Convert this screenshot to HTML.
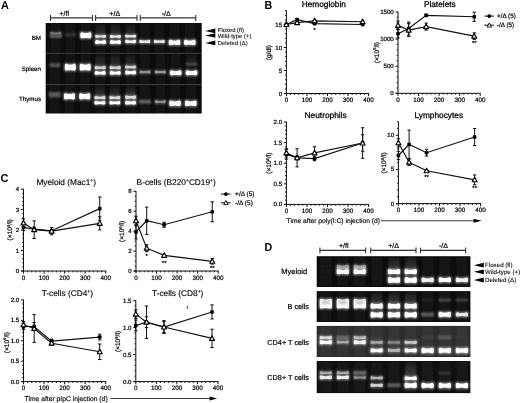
<!DOCTYPE html>
<html><head><meta charset="utf-8"><style>
html,body{margin:0;padding:0;background:#fff;}
svg{display:block;filter:grayscale(100%) blur(0.3px);}
text{font-family:"Liberation Sans", sans-serif;text-rendering:geometricPrecision;}
</style></head><body>
<svg width="520" height="403" viewBox="0 0 520 403">
<defs><filter id="bl" x="-30%" y="-60%" width="160%" height="220%"><feGaussianBlur stdDeviation="0.75"/></filter><filter id="bl3" x="-30%" y="-80%" width="160%" height="260%"><feGaussianBlur stdDeviation="1.0"/></filter><filter id="bl2" x="-30%" y="-60%" width="160%" height="220%"><feGaussianBlur stdDeviation="1.2"/></filter><linearGradient id="sm" x1="0" y1="0" x2="0" y2="1"><stop offset="0" stop-color="#fff" stop-opacity="0.05"/><stop offset="1" stop-color="#fff" stop-opacity="0.25"/></linearGradient></defs>
<rect width="520" height="403" fill="#fff"/>
<text transform="translate(0.9,8.75) scale(0.96,1)" font-size="11.4" font-weight="bold" fill="#000">A</text>
<text transform="translate(264.4,8.9) scale(0.92,1)" font-size="11.6" font-weight="bold" fill="#000">B</text>
<text transform="translate(0.5,181.9) scale(0.96,1)" font-size="11.4" font-weight="bold" fill="#000">C</text>
<text transform="translate(264.6,251.0) scale(0.92,1)" font-size="11.6" font-weight="bold" fill="#000">D</text>
<line x1="50.50" y1="17.90" x2="92.50" y2="17.90" stroke="#333" stroke-width="1.1"/>
<line x1="50.50" y1="15.00" x2="50.50" y2="20.90" stroke="#333" stroke-width="1.1"/>
<line x1="92.50" y1="15.00" x2="92.50" y2="20.90" stroke="#333" stroke-width="1.1"/>
<line x1="95.60" y1="17.90" x2="137.00" y2="17.90" stroke="#333" stroke-width="1.1"/>
<line x1="95.60" y1="15.00" x2="95.60" y2="20.90" stroke="#333" stroke-width="1.1"/>
<line x1="137.00" y1="15.00" x2="137.00" y2="20.90" stroke="#333" stroke-width="1.1"/>
<line x1="140.30" y1="17.90" x2="195.80" y2="17.90" stroke="#333" stroke-width="1.1"/>
<line x1="140.30" y1="15.00" x2="140.30" y2="20.90" stroke="#333" stroke-width="1.1"/>
<line x1="195.80" y1="15.00" x2="195.80" y2="20.90" stroke="#333" stroke-width="1.1"/>
<text x="64.20" y="15.50" font-size="7.1" text-anchor="middle" font-weight="normal" fill="#000" stroke="#000" stroke-width="0.2" >+/fl</text>
<text x="114.80" y="15.50" font-size="7.1" text-anchor="middle" font-weight="normal" fill="#000" stroke="#000" stroke-width="0.2" >+/Δ</text>
<text x="166.20" y="15.50" font-size="7.1" text-anchor="middle" font-weight="normal" fill="#000" stroke="#000" stroke-width="0.2" >-/Δ</text>
<rect x="45.7" y="23.0" width="156.0" height="90.5" fill="#0b0b0b"/>
<rect x="45.7" y="52.80" width="156.0" height="0.9" fill="#454545"/>
<rect x="45.7" y="84.20" width="156.0" height="0.9" fill="#454545"/>
<rect x="51.00" y="23.50" width="9.6" height="29.10" fill="#fff" opacity="0.035" filter="url(#bl)"/>
<rect x="65.60" y="23.50" width="9.6" height="29.10" fill="#fff" opacity="0.035" filter="url(#bl)"/>
<rect x="81.00" y="23.50" width="9.6" height="29.10" fill="#fff" opacity="0.035" filter="url(#bl)"/>
<rect x="95.80" y="23.50" width="9.6" height="29.10" fill="#fff" opacity="0.035" filter="url(#bl)"/>
<rect x="110.60" y="23.50" width="9.6" height="29.10" fill="#fff" opacity="0.035" filter="url(#bl)"/>
<rect x="125.80" y="23.50" width="9.6" height="29.10" fill="#fff" opacity="0.035" filter="url(#bl)"/>
<rect x="140.00" y="23.50" width="9.6" height="29.10" fill="#fff" opacity="0.035" filter="url(#bl)"/>
<rect x="154.50" y="23.50" width="9.6" height="29.10" fill="#fff" opacity="0.035" filter="url(#bl)"/>
<rect x="169.70" y="23.50" width="9.6" height="29.10" fill="#fff" opacity="0.035" filter="url(#bl)"/>
<rect x="185.00" y="23.50" width="9.6" height="29.10" fill="#fff" opacity="0.035" filter="url(#bl)"/>
<rect x="50.10" y="54.00" width="9.6" height="30.00" fill="#fff" opacity="0.035" filter="url(#bl)"/>
<rect x="65.50" y="54.00" width="9.6" height="30.00" fill="#fff" opacity="0.035" filter="url(#bl)"/>
<rect x="80.40" y="54.00" width="9.6" height="30.00" fill="#fff" opacity="0.035" filter="url(#bl)"/>
<rect x="95.40" y="54.00" width="9.6" height="30.00" fill="#fff" opacity="0.035" filter="url(#bl)"/>
<rect x="110.40" y="54.00" width="9.6" height="30.00" fill="#fff" opacity="0.035" filter="url(#bl)"/>
<rect x="125.80" y="54.00" width="9.6" height="30.00" fill="#fff" opacity="0.035" filter="url(#bl)"/>
<rect x="140.20" y="54.00" width="9.6" height="30.00" fill="#fff" opacity="0.035" filter="url(#bl)"/>
<rect x="155.50" y="54.00" width="9.6" height="30.00" fill="#fff" opacity="0.035" filter="url(#bl)"/>
<rect x="170.90" y="54.00" width="9.6" height="30.00" fill="#fff" opacity="0.035" filter="url(#bl)"/>
<rect x="186.70" y="54.00" width="9.6" height="30.00" fill="#fff" opacity="0.035" filter="url(#bl)"/>
<rect x="49.90" y="85.40" width="9.6" height="27.60" fill="#fff" opacity="0.035" filter="url(#bl)"/>
<rect x="64.70" y="85.40" width="9.6" height="27.60" fill="#fff" opacity="0.035" filter="url(#bl)"/>
<rect x="79.90" y="85.40" width="9.6" height="27.60" fill="#fff" opacity="0.035" filter="url(#bl)"/>
<rect x="95.10" y="85.40" width="9.6" height="27.60" fill="#fff" opacity="0.035" filter="url(#bl)"/>
<rect x="110.00" y="85.40" width="9.6" height="27.60" fill="#fff" opacity="0.035" filter="url(#bl)"/>
<rect x="125.80" y="85.40" width="9.6" height="27.60" fill="#fff" opacity="0.035" filter="url(#bl)"/>
<rect x="140.20" y="85.40" width="9.6" height="27.60" fill="#fff" opacity="0.035" filter="url(#bl)"/>
<rect x="155.50" y="85.40" width="9.6" height="27.60" fill="#fff" opacity="0.035" filter="url(#bl)"/>
<rect x="170.30" y="85.40" width="9.6" height="27.60" fill="#fff" opacity="0.035" filter="url(#bl)"/>
<rect x="186.00" y="85.40" width="9.6" height="27.60" fill="#fff" opacity="0.035" filter="url(#bl)"/>
<rect x="95.65" y="25.00" width="9.90" height="11.00" fill="url(#sm)" opacity="0.50" filter="url(#bl2)"/>
<rect x="110.45" y="25.00" width="9.90" height="11.00" fill="url(#sm)" opacity="0.50" filter="url(#bl2)"/>
<rect x="125.65" y="25.00" width="9.90" height="11.00" fill="url(#sm)" opacity="0.45" filter="url(#bl2)"/>
<rect x="95.25" y="56.00" width="9.90" height="11.00" fill="url(#sm)" opacity="0.50" filter="url(#bl2)"/>
<rect x="110.25" y="56.00" width="9.90" height="11.00" fill="url(#sm)" opacity="0.50" filter="url(#bl2)"/>
<rect x="125.65" y="56.00" width="9.90" height="10.00" fill="url(#sm)" opacity="0.50" filter="url(#bl2)"/>
<rect x="186.55" y="56.00" width="9.90" height="8.00" fill="url(#sm)" opacity="0.30" filter="url(#bl2)"/>
<rect x="94.95" y="87.00" width="9.90" height="10.00" fill="url(#sm)" opacity="0.60" filter="url(#bl2)"/>
<rect x="109.85" y="87.00" width="9.90" height="10.00" fill="url(#sm)" opacity="0.55" filter="url(#bl2)"/>
<rect x="125.65" y="87.00" width="9.90" height="9.00" fill="url(#sm)" opacity="0.60" filter="url(#bl2)"/>
<path d="M49.65,32.70 Q49.65,31.10 51.25,31.10 Q55.80,32.86 60.35,31.10 Q61.95,31.10 61.95,32.70 L61.95,33.90 Q61.95,35.50 60.35,35.50 Q55.80,34.44 51.25,35.50 Q49.65,35.50 49.65,33.90 Z" fill="rgb(118,118,118)" opacity="0.55" filter="url(#bl2)"/>
<path d="M50.35,33.06 Q50.35,32.10 51.31,32.10 Q55.80,33.06 60.29,32.10 Q61.25,32.10 61.25,33.06 L61.25,33.54 Q61.25,34.50 60.29,34.50 Q55.80,33.92 51.31,34.50 Q50.35,34.50 50.35,33.54 Z" fill="rgb(118,118,118)" filter="url(#bl)"/>
<path d="M49.65,35.50 Q49.65,33.90 51.25,33.90 Q55.80,35.62 60.35,33.90 Q61.95,33.90 61.95,35.50 L61.95,36.60 Q61.95,38.20 60.35,38.20 Q55.80,37.17 51.25,38.20 Q49.65,38.20 49.65,36.60 Z" fill="rgb(109,109,109)" opacity="0.55" filter="url(#bl2)"/>
<path d="M50.35,35.82 Q50.35,34.90 51.27,34.90 Q55.80,35.82 60.33,34.90 Q61.25,34.90 61.25,35.82 L61.25,36.28 Q61.25,37.20 60.33,37.20 Q55.80,36.65 51.27,37.20 Q50.35,37.20 50.35,36.28 Z" fill="rgb(109,109,109)" filter="url(#bl3)"/>
<path d="M64.95,34.32 Q64.95,32.80 66.47,32.80 Q70.40,34.32 74.33,32.80 Q75.85,32.80 75.85,34.32 L75.85,35.08 Q75.85,36.60 74.33,36.60 Q70.40,35.69 66.47,36.60 Q64.95,36.60 64.95,35.08 Z" fill="rgb(57,57,57)" filter="url(#bl3)"/>
<path d="M79.65,32.80 Q79.65,31.20 81.25,31.20 Q85.80,33.00 90.35,31.20 Q91.95,31.20 91.95,32.80 L91.95,37.60 Q91.95,39.20 90.35,39.20 Q85.80,38.12 81.25,39.20 Q79.65,39.20 79.65,37.60 Z" fill="rgb(255,255,255)" opacity="0.55" filter="url(#bl2)"/>
<path d="M80.35,33.80 Q80.35,32.20 81.95,32.20 Q85.80,34.00 89.65,32.20 Q91.25,32.20 91.25,33.80 L91.25,36.60 Q91.25,38.20 89.65,38.20 Q85.80,37.12 81.95,38.20 Q80.35,38.20 80.35,36.60 Z" fill="rgb(255,255,255)" filter="url(#bl)"/>
<path d="M94.45,35.50 Q94.45,33.90 96.05,33.90 Q100.60,35.70 105.15,33.90 Q106.75,33.90 106.75,35.50 L106.75,37.10 Q106.75,38.70 105.15,38.70 Q100.60,37.62 96.05,38.70 Q94.45,38.70 94.45,37.10 Z" fill="rgb(236,236,236)" opacity="0.55" filter="url(#bl2)"/>
<path d="M95.15,36.02 Q95.15,34.90 96.27,34.90 Q100.60,36.02 104.93,34.90 Q106.05,34.90 106.05,36.02 L106.05,36.58 Q106.05,37.70 104.93,37.70 Q100.60,37.03 96.27,37.70 Q95.15,37.70 95.15,36.58 Z" fill="rgb(236,236,236)" filter="url(#bl)"/>
<path d="M94.45,40.70 Q94.45,39.10 96.05,39.10 Q100.60,40.90 105.15,39.10 Q106.75,39.10 106.75,40.70 L106.75,43.40 Q106.75,45.00 105.15,45.00 Q100.60,43.92 96.05,45.00 Q94.45,45.00 94.45,43.40 Z" fill="rgb(255,255,255)" opacity="0.55" filter="url(#bl2)"/>
<path d="M95.15,41.66 Q95.15,40.10 96.71,40.10 Q100.60,41.66 104.49,40.10 Q106.05,40.10 106.05,41.66 L106.05,42.44 Q106.05,44.00 104.49,44.00 Q100.60,43.06 96.71,44.00 Q95.15,44.00 95.15,42.44 Z" fill="rgb(255,255,255)" filter="url(#bl)"/>
<path d="M109.25,35.50 Q109.25,33.90 110.85,33.90 Q115.40,35.70 119.95,33.90 Q121.55,33.90 121.55,35.50 L121.55,37.30 Q121.55,38.90 119.95,38.90 Q115.40,37.82 110.85,38.90 Q109.25,38.90 109.25,37.30 Z" fill="rgb(236,236,236)" opacity="0.55" filter="url(#bl2)"/>
<path d="M109.95,36.10 Q109.95,34.90 111.15,34.90 Q115.40,36.10 119.65,34.90 Q120.85,34.90 120.85,36.10 L120.85,36.70 Q120.85,37.90 119.65,37.90 Q115.40,37.18 111.15,37.90 Q109.95,37.90 109.95,36.70 Z" fill="rgb(236,236,236)" filter="url(#bl)"/>
<path d="M109.25,40.60 Q109.25,39.00 110.85,39.00 Q115.40,40.80 119.95,39.00 Q121.55,39.00 121.55,40.60 L121.55,43.40 Q121.55,45.00 119.95,45.00 Q115.40,43.92 110.85,45.00 Q109.25,45.00 109.25,43.40 Z" fill="rgb(255,255,255)" opacity="0.55" filter="url(#bl2)"/>
<path d="M109.95,41.60 Q109.95,40.00 111.55,40.00 Q115.40,41.60 119.25,40.00 Q120.85,40.00 120.85,41.60 L120.85,42.40 Q120.85,44.00 119.25,44.00 Q115.40,43.04 111.55,44.00 Q109.95,44.00 109.95,42.40 Z" fill="rgb(255,255,255)" filter="url(#bl)"/>
<path d="M124.45,35.40 Q124.45,33.80 126.05,33.80 Q130.60,35.60 135.15,33.80 Q136.75,33.80 136.75,35.40 L136.75,37.00 Q136.75,38.60 135.15,38.60 Q130.60,37.52 126.05,38.60 Q124.45,38.60 124.45,37.00 Z" fill="rgb(236,236,236)" opacity="0.55" filter="url(#bl2)"/>
<path d="M125.15,35.92 Q125.15,34.80 126.27,34.80 Q130.60,35.92 134.93,34.80 Q136.05,34.80 136.05,35.92 L136.05,36.48 Q136.05,37.60 134.93,37.60 Q130.60,36.93 126.27,37.60 Q125.15,37.60 125.15,36.48 Z" fill="rgb(236,236,236)" filter="url(#bl)"/>
<path d="M124.45,40.40 Q124.45,38.80 126.05,38.80 Q130.60,40.60 135.15,38.80 Q136.75,38.80 136.75,40.40 L136.75,42.60 Q136.75,44.20 135.15,44.20 Q130.60,43.12 126.05,44.20 Q124.45,44.20 124.45,42.60 Z" fill="rgb(243,243,243)" opacity="0.55" filter="url(#bl2)"/>
<path d="M125.15,41.16 Q125.15,39.80 126.51,39.80 Q130.60,41.16 134.69,39.80 Q136.05,39.80 136.05,41.16 L136.05,41.84 Q136.05,43.20 134.69,43.20 Q130.60,42.38 126.51,43.20 Q125.15,43.20 125.15,41.84 Z" fill="rgb(243,243,243)" filter="url(#bl)"/>
<path d="M138.65,40.50 Q138.65,38.90 140.25,38.90 Q144.80,40.70 149.35,38.90 Q150.95,38.90 150.95,40.50 L150.95,42.40 Q150.95,44.00 149.35,44.00 Q144.80,42.92 140.25,44.00 Q138.65,44.00 138.65,42.40 Z" fill="rgb(236,236,236)" opacity="0.55" filter="url(#bl2)"/>
<path d="M139.35,41.14 Q139.35,39.90 140.59,39.90 Q144.80,41.14 149.01,39.90 Q150.25,39.90 150.25,41.14 L150.25,41.76 Q150.25,43.00 149.01,43.00 Q144.80,42.26 140.59,43.00 Q139.35,43.00 139.35,41.76 Z" fill="rgb(236,236,236)" filter="url(#bl)"/>
<path d="M153.15,40.50 Q153.15,38.90 154.75,38.90 Q159.30,40.70 163.85,38.90 Q165.45,38.90 165.45,40.50 L165.45,42.40 Q165.45,44.00 163.85,44.00 Q159.30,42.92 154.75,44.00 Q153.15,44.00 153.15,42.40 Z" fill="rgb(231,231,231)" opacity="0.55" filter="url(#bl2)"/>
<path d="M153.85,41.14 Q153.85,39.90 155.09,39.90 Q159.30,41.14 163.51,39.90 Q164.75,39.90 164.75,41.14 L164.75,41.76 Q164.75,43.00 163.51,43.00 Q159.30,42.26 155.09,43.00 Q153.85,43.00 153.85,41.76 Z" fill="rgb(231,231,231)" filter="url(#bl)"/>
<path d="M168.05,40.40 Q168.05,38.80 169.65,38.80 Q174.50,40.60 179.35,38.80 Q180.95,38.80 180.95,40.40 L180.95,44.40 Q180.95,46.00 179.35,46.00 Q174.50,44.92 169.65,46.00 Q168.05,46.00 168.05,44.40 Z" fill="rgb(255,255,255)" opacity="0.55" filter="url(#bl2)"/>
<path d="M168.75,41.40 Q168.75,39.80 170.35,39.80 Q174.50,41.60 178.65,39.80 Q180.25,39.80 180.25,41.40 L180.25,43.40 Q180.25,45.00 178.65,45.00 Q174.50,43.92 170.35,45.00 Q168.75,45.00 168.75,43.40 Z" fill="rgb(255,255,255)" filter="url(#bl)"/>
<path d="M183.35,40.40 Q183.35,38.80 184.95,38.80 Q189.80,40.60 194.65,38.80 Q196.25,38.80 196.25,40.40 L196.25,44.40 Q196.25,46.00 194.65,46.00 Q189.80,44.92 184.95,46.00 Q183.35,46.00 183.35,44.40 Z" fill="rgb(255,255,255)" opacity="0.55" filter="url(#bl2)"/>
<path d="M184.05,41.40 Q184.05,39.80 185.65,39.80 Q189.80,41.60 193.95,39.80 Q195.55,39.80 195.55,41.40 L195.55,43.40 Q195.55,45.00 193.95,45.00 Q189.80,43.92 185.65,45.00 Q184.05,45.00 184.05,43.40 Z" fill="rgb(255,255,255)" filter="url(#bl)"/>
<path d="M49.45,64.40 Q49.45,62.80 51.05,62.80 Q54.90,64.56 58.75,62.80 Q60.35,62.80 60.35,64.40 L60.35,65.60 Q60.35,67.20 58.75,67.20 Q54.90,66.14 51.05,67.20 Q49.45,67.20 49.45,65.60 Z" fill="rgb(90,90,90)" filter="url(#bl3)"/>
<path d="M64.15,64.40 Q64.15,62.80 65.75,62.80 Q70.30,64.60 74.85,62.80 Q76.45,62.80 76.45,64.40 L76.45,70.00 Q76.45,71.60 74.85,71.60 Q70.30,70.52 65.75,71.60 Q64.15,71.60 64.15,70.00 Z" fill="rgb(255,255,255)" opacity="0.55" filter="url(#bl2)"/>
<path d="M64.85,65.40 Q64.85,63.80 66.45,63.80 Q70.30,65.60 74.15,63.80 Q75.75,63.80 75.75,65.40 L75.75,69.00 Q75.75,70.60 74.15,70.60 Q70.30,69.52 66.45,70.60 Q64.85,70.60 64.85,69.00 Z" fill="rgb(255,255,255)" filter="url(#bl)"/>
<path d="M79.05,64.40 Q79.05,62.80 80.65,62.80 Q85.20,64.60 89.75,62.80 Q91.35,62.80 91.35,64.40 L91.35,70.00 Q91.35,71.60 89.75,71.60 Q85.20,70.52 80.65,71.60 Q79.05,71.60 79.05,70.00 Z" fill="rgb(255,255,255)" opacity="0.55" filter="url(#bl2)"/>
<path d="M79.75,65.40 Q79.75,63.80 81.35,63.80 Q85.20,65.60 89.05,63.80 Q90.65,63.80 90.65,65.40 L90.65,69.00 Q90.65,70.60 89.05,70.60 Q85.20,69.52 81.35,70.60 Q79.75,70.60 79.75,69.00 Z" fill="rgb(255,255,255)" filter="url(#bl)"/>
<path d="M94.05,66.60 Q94.05,65.00 95.65,65.00 Q100.20,66.80 104.75,65.00 Q106.35,65.00 106.35,66.60 L106.35,68.60 Q106.35,70.20 104.75,70.20 Q100.20,69.12 95.65,70.20 Q94.05,70.20 94.05,68.60 Z" fill="rgb(212,212,212)" opacity="0.55" filter="url(#bl2)"/>
<path d="M94.75,67.28 Q94.75,66.00 96.03,66.00 Q100.20,67.28 104.37,66.00 Q105.65,66.00 105.65,67.28 L105.65,67.92 Q105.65,69.20 104.37,69.20 Q100.20,68.43 96.03,69.20 Q94.75,69.20 94.75,67.92 Z" fill="rgb(212,212,212)" filter="url(#bl)"/>
<path d="M94.05,71.60 Q94.05,70.00 95.65,70.00 Q100.20,71.80 104.75,70.00 Q106.35,70.00 106.35,71.60 L106.35,74.20 Q106.35,75.80 104.75,75.80 Q100.20,74.72 95.65,75.80 Q94.05,75.80 94.05,74.20 Z" fill="rgb(255,255,255)" opacity="0.55" filter="url(#bl2)"/>
<path d="M94.75,72.52 Q94.75,71.00 96.27,71.00 Q100.20,72.52 104.13,71.00 Q105.65,71.00 105.65,72.52 L105.65,73.28 Q105.65,74.80 104.13,74.80 Q100.20,73.89 96.27,74.80 Q94.75,74.80 94.75,73.28 Z" fill="rgb(255,255,255)" filter="url(#bl)"/>
<path d="M109.05,66.60 Q109.05,65.00 110.65,65.00 Q115.20,66.80 119.75,65.00 Q121.35,65.00 121.35,66.60 L121.35,68.60 Q121.35,70.20 119.75,70.20 Q115.20,69.12 110.65,70.20 Q109.05,70.20 109.05,68.60 Z" fill="rgb(212,212,212)" opacity="0.55" filter="url(#bl2)"/>
<path d="M109.75,67.28 Q109.75,66.00 111.03,66.00 Q115.20,67.28 119.37,66.00 Q120.65,66.00 120.65,67.28 L120.65,67.92 Q120.65,69.20 119.37,69.20 Q115.20,68.43 111.03,69.20 Q109.75,69.20 109.75,67.92 Z" fill="rgb(212,212,212)" filter="url(#bl)"/>
<path d="M109.05,71.60 Q109.05,70.00 110.65,70.00 Q115.20,71.80 119.75,70.00 Q121.35,70.00 121.35,71.60 L121.35,74.20 Q121.35,75.80 119.75,75.80 Q115.20,74.72 110.65,75.80 Q109.05,75.80 109.05,74.20 Z" fill="rgb(255,255,255)" opacity="0.55" filter="url(#bl2)"/>
<path d="M109.75,72.52 Q109.75,71.00 111.27,71.00 Q115.20,72.52 119.13,71.00 Q120.65,71.00 120.65,72.52 L120.65,73.28 Q120.65,74.80 119.13,74.80 Q115.20,73.89 111.27,74.80 Q109.75,74.80 109.75,73.28 Z" fill="rgb(255,255,255)" filter="url(#bl)"/>
<path d="M124.45,66.00 Q124.45,64.40 126.05,64.40 Q130.60,66.20 135.15,64.40 Q136.75,64.40 136.75,66.00 L136.75,67.90 Q136.75,69.50 135.15,69.50 Q130.60,68.42 126.05,69.50 Q124.45,69.50 124.45,67.90 Z" fill="rgb(212,212,212)" opacity="0.55" filter="url(#bl2)"/>
<path d="M125.15,66.64 Q125.15,65.40 126.39,65.40 Q130.60,66.64 134.81,65.40 Q136.05,65.40 136.05,66.64 L136.05,67.26 Q136.05,68.50 134.81,68.50 Q130.60,67.76 126.39,68.50 Q125.15,68.50 125.15,67.26 Z" fill="rgb(212,212,212)" filter="url(#bl)"/>
<path d="M124.45,71.10 Q124.45,69.50 126.05,69.50 Q130.60,71.30 135.15,69.50 Q136.75,69.50 136.75,71.10 L136.75,73.80 Q136.75,75.40 135.15,75.40 Q130.60,74.32 126.05,75.40 Q124.45,75.40 124.45,73.80 Z" fill="rgb(255,255,255)" opacity="0.55" filter="url(#bl2)"/>
<path d="M125.15,72.06 Q125.15,70.50 126.71,70.50 Q130.60,72.06 134.49,70.50 Q136.05,70.50 136.05,72.06 L136.05,72.84 Q136.05,74.40 134.49,74.40 Q130.60,73.46 126.71,74.40 Q125.15,74.40 125.15,72.84 Z" fill="rgb(255,255,255)" filter="url(#bl)"/>
<path d="M138.85,71.00 Q138.85,69.40 140.45,69.40 Q145.00,71.20 149.55,69.40 Q151.15,69.40 151.15,71.00 L151.15,72.80 Q151.15,74.40 149.55,74.40 Q145.00,73.32 140.45,74.40 Q138.85,74.40 138.85,72.80 Z" fill="rgb(142,142,142)" opacity="0.55" filter="url(#bl2)"/>
<path d="M139.55,71.60 Q139.55,70.40 140.75,70.40 Q145.00,71.60 149.25,70.40 Q150.45,70.40 150.45,71.60 L150.45,72.20 Q150.45,73.40 149.25,73.40 Q145.00,72.68 140.75,73.40 Q139.55,73.40 139.55,72.20 Z" fill="rgb(142,142,142)" filter="url(#bl)"/>
<path d="M154.15,71.00 Q154.15,69.40 155.75,69.40 Q160.30,71.20 164.85,69.40 Q166.45,69.40 166.45,71.00 L166.45,72.80 Q166.45,74.40 164.85,74.40 Q160.30,73.32 155.75,74.40 Q154.15,74.40 154.15,72.80 Z" fill="rgb(149,149,149)" opacity="0.55" filter="url(#bl2)"/>
<path d="M154.85,71.60 Q154.85,70.40 156.05,70.40 Q160.30,71.60 164.55,70.40 Q165.75,70.40 165.75,71.60 L165.75,72.20 Q165.75,73.40 164.55,73.40 Q160.30,72.68 156.05,73.40 Q154.85,73.40 154.85,72.20 Z" fill="rgb(149,149,149)" filter="url(#bl)"/>
<path d="M169.25,70.90 Q169.25,69.30 170.85,69.30 Q175.70,71.10 180.55,69.30 Q182.15,69.30 182.15,70.90 L182.15,74.60 Q182.15,76.20 180.55,76.20 Q175.70,75.12 170.85,76.20 Q169.25,76.20 169.25,74.60 Z" fill="rgb(255,255,255)" opacity="0.55" filter="url(#bl2)"/>
<path d="M169.95,71.90 Q169.95,70.30 171.55,70.30 Q175.70,72.10 179.85,70.30 Q181.45,70.30 181.45,71.90 L181.45,73.60 Q181.45,75.20 179.85,75.20 Q175.70,74.12 171.55,75.20 Q169.95,75.20 169.95,73.60 Z" fill="rgb(255,255,255)" filter="url(#bl)"/>
<path d="M185.75,63.92 Q185.75,62.80 186.87,62.80 Q191.50,63.92 196.13,62.80 Q197.25,62.80 197.25,63.92 L197.25,64.48 Q197.25,65.60 196.13,65.60 Q191.50,64.93 186.87,65.60 Q185.75,65.60 185.75,64.48 Z" fill="rgb(90,90,90)" filter="url(#bl3)"/>
<path d="M185.05,70.90 Q185.05,69.30 186.65,69.30 Q191.50,71.10 196.35,69.30 Q197.95,69.30 197.95,70.90 L197.95,74.60 Q197.95,76.20 196.35,76.20 Q191.50,75.12 186.65,76.20 Q185.05,76.20 185.05,74.60 Z" fill="rgb(255,255,255)" opacity="0.55" filter="url(#bl2)"/>
<path d="M185.75,71.90 Q185.75,70.30 187.35,70.30 Q191.50,72.10 195.65,70.30 Q197.25,70.30 197.25,71.90 L197.25,73.60 Q197.25,75.20 195.65,75.20 Q191.50,74.12 187.35,75.20 Q185.75,75.20 185.75,73.60 Z" fill="rgb(255,255,255)" filter="url(#bl)"/>
<path d="M48.55,92.80 Q48.55,91.20 50.15,91.20 Q54.70,93.00 59.25,91.20 Q60.85,91.20 60.85,92.80 L60.85,96.20 Q60.85,97.80 59.25,97.80 Q54.70,96.72 50.15,97.80 Q48.55,97.80 48.55,96.20 Z" fill="rgb(95,95,95)" opacity="0.55" filter="url(#bl2)"/>
<path d="M49.25,93.80 Q49.25,92.20 50.85,92.20 Q54.70,94.00 58.55,92.20 Q60.15,92.20 60.15,93.80 L60.15,95.20 Q60.15,96.80 58.55,96.80 Q54.70,95.72 50.85,96.80 Q49.25,96.80 49.25,95.20 Z" fill="rgb(95,95,95)" filter="url(#bl3)"/>
<path d="M63.35,93.80 Q63.35,92.20 64.95,92.20 Q69.50,94.00 74.05,92.20 Q75.65,92.20 75.65,93.80 L75.65,98.80 Q75.65,100.40 74.05,100.40 Q69.50,99.32 64.95,100.40 Q63.35,100.40 63.35,98.80 Z" fill="rgb(255,255,255)" opacity="0.55" filter="url(#bl2)"/>
<path d="M64.05,94.80 Q64.05,93.20 65.65,93.20 Q69.50,95.00 73.35,93.20 Q74.95,93.20 74.95,94.80 L74.95,97.80 Q74.95,99.40 73.35,99.40 Q69.50,98.32 65.65,99.40 Q64.05,99.40 64.05,97.80 Z" fill="rgb(255,255,255)" filter="url(#bl)"/>
<path d="M78.55,93.80 Q78.55,92.20 80.15,92.20 Q84.70,94.00 89.25,92.20 Q90.85,92.20 90.85,93.80 L90.85,98.80 Q90.85,100.40 89.25,100.40 Q84.70,99.32 80.15,100.40 Q78.55,100.40 78.55,98.80 Z" fill="rgb(255,255,255)" opacity="0.55" filter="url(#bl2)"/>
<path d="M79.25,94.80 Q79.25,93.20 80.85,93.20 Q84.70,95.00 88.55,93.20 Q90.15,93.20 90.15,94.80 L90.15,97.80 Q90.15,99.40 88.55,99.40 Q84.70,98.32 80.85,99.40 Q79.25,99.40 79.25,97.80 Z" fill="rgb(255,255,255)" filter="url(#bl)"/>
<path d="M93.75,96.60 Q93.75,95.00 95.35,95.00 Q99.90,96.80 104.45,95.00 Q106.05,95.00 106.05,96.60 L106.05,98.60 Q106.05,100.20 104.45,100.20 Q99.90,99.12 95.35,100.20 Q93.75,100.20 93.75,98.60 Z" fill="rgb(219,219,219)" opacity="0.55" filter="url(#bl2)"/>
<path d="M94.45,97.28 Q94.45,96.00 95.73,96.00 Q99.90,97.28 104.07,96.00 Q105.35,96.00 105.35,97.28 L105.35,97.92 Q105.35,99.20 104.07,99.20 Q99.90,98.43 95.73,99.20 Q94.45,99.20 94.45,97.92 Z" fill="rgb(219,219,219)" filter="url(#bl)"/>
<path d="M93.75,101.50 Q93.75,99.90 95.35,99.90 Q99.90,101.70 104.45,99.90 Q106.05,99.90 106.05,101.50 L106.05,103.80 Q106.05,105.40 104.45,105.40 Q99.90,104.32 95.35,105.40 Q93.75,105.40 93.75,103.80 Z" fill="rgb(255,255,255)" opacity="0.55" filter="url(#bl2)"/>
<path d="M94.45,102.30 Q94.45,100.90 95.85,100.90 Q99.90,102.30 103.95,100.90 Q105.35,100.90 105.35,102.30 L105.35,103.00 Q105.35,104.40 103.95,104.40 Q99.90,103.56 95.85,104.40 Q94.45,104.40 94.45,103.00 Z" fill="rgb(255,255,255)" filter="url(#bl)"/>
<path d="M108.65,96.60 Q108.65,95.00 110.25,95.00 Q114.80,96.80 119.35,95.00 Q120.95,95.00 120.95,96.60 L120.95,98.60 Q120.95,100.20 119.35,100.20 Q114.80,99.12 110.25,100.20 Q108.65,100.20 108.65,98.60 Z" fill="rgb(219,219,219)" opacity="0.55" filter="url(#bl2)"/>
<path d="M109.35,97.28 Q109.35,96.00 110.63,96.00 Q114.80,97.28 118.97,96.00 Q120.25,96.00 120.25,97.28 L120.25,97.92 Q120.25,99.20 118.97,99.20 Q114.80,98.43 110.63,99.20 Q109.35,99.20 109.35,97.92 Z" fill="rgb(219,219,219)" filter="url(#bl)"/>
<path d="M108.65,101.50 Q108.65,99.90 110.25,99.90 Q114.80,101.70 119.35,99.90 Q120.95,99.90 120.95,101.50 L120.95,103.80 Q120.95,105.40 119.35,105.40 Q114.80,104.32 110.25,105.40 Q108.65,105.40 108.65,103.80 Z" fill="rgb(255,255,255)" opacity="0.55" filter="url(#bl2)"/>
<path d="M109.35,102.30 Q109.35,100.90 110.75,100.90 Q114.80,102.30 118.85,100.90 Q120.25,100.90 120.25,102.30 L120.25,103.00 Q120.25,104.40 118.85,104.40 Q114.80,103.56 110.75,104.40 Q109.35,104.40 109.35,103.00 Z" fill="rgb(255,255,255)" filter="url(#bl)"/>
<path d="M124.45,96.00 Q124.45,94.40 126.05,94.40 Q130.60,96.20 135.15,94.40 Q136.75,94.40 136.75,96.00 L136.75,98.40 Q136.75,100.00 135.15,100.00 Q130.60,98.92 126.05,100.00 Q124.45,100.00 124.45,98.40 Z" fill="rgb(219,219,219)" opacity="0.55" filter="url(#bl2)"/>
<path d="M125.15,96.84 Q125.15,95.40 126.59,95.40 Q130.60,96.84 134.61,95.40 Q136.05,95.40 136.05,96.84 L136.05,97.56 Q136.05,99.00 134.61,99.00 Q130.60,98.14 126.59,99.00 Q125.15,99.00 125.15,97.56 Z" fill="rgb(219,219,219)" filter="url(#bl)"/>
<path d="M124.45,101.30 Q124.45,99.70 126.05,99.70 Q130.60,101.50 135.15,99.70 Q136.75,99.70 136.75,101.30 L136.75,104.00 Q136.75,105.60 135.15,105.60 Q130.60,104.52 126.05,105.60 Q124.45,105.60 124.45,104.00 Z" fill="rgb(255,255,255)" opacity="0.55" filter="url(#bl2)"/>
<path d="M125.15,102.26 Q125.15,100.70 126.71,100.70 Q130.60,102.26 134.49,100.70 Q136.05,100.70 136.05,102.26 L136.05,103.04 Q136.05,104.60 134.49,104.60 Q130.60,103.66 126.71,104.60 Q125.15,104.60 125.15,103.04 Z" fill="rgb(255,255,255)" filter="url(#bl)"/>
<path d="M138.85,100.90 Q138.85,99.30 140.45,99.30 Q145.00,101.10 149.55,99.30 Q151.15,99.30 151.15,100.90 L151.15,102.30 Q151.15,103.90 149.55,103.90 Q145.00,102.82 140.45,103.90 Q138.85,103.90 138.85,102.30 Z" fill="rgb(114,114,114)" opacity="0.55" filter="url(#bl2)"/>
<path d="M139.55,101.34 Q139.55,100.30 140.59,100.30 Q145.00,101.34 149.41,100.30 Q150.45,100.30 150.45,101.34 L150.45,101.86 Q150.45,102.90 149.41,102.90 Q145.00,102.28 140.59,102.90 Q139.55,102.90 139.55,101.86 Z" fill="rgb(114,114,114)" filter="url(#bl3)"/>
<path d="M154.15,100.90 Q154.15,99.30 155.75,99.30 Q160.30,101.10 164.85,99.30 Q166.45,99.30 166.45,100.90 L166.45,102.60 Q166.45,104.20 164.85,104.20 Q160.30,103.12 155.75,104.20 Q154.15,104.20 154.15,102.60 Z" fill="rgb(142,142,142)" opacity="0.55" filter="url(#bl2)"/>
<path d="M154.85,101.46 Q154.85,100.30 156.01,100.30 Q160.30,101.46 164.59,100.30 Q165.75,100.30 165.75,101.46 L165.75,102.04 Q165.75,103.20 164.59,103.20 Q160.30,102.50 156.01,103.20 Q154.85,103.20 154.85,102.04 Z" fill="rgb(142,142,142)" filter="url(#bl)"/>
<path d="M168.65,101.20 Q168.65,99.60 170.25,99.60 Q175.10,101.40 179.95,99.60 Q181.55,99.60 181.55,101.20 L181.55,105.40 Q181.55,107.00 179.95,107.00 Q175.10,105.92 170.25,107.00 Q168.65,107.00 168.65,105.40 Z" fill="rgb(255,255,255)" opacity="0.55" filter="url(#bl2)"/>
<path d="M169.35,102.20 Q169.35,100.60 170.95,100.60 Q175.10,102.40 179.25,100.60 Q180.85,100.60 180.85,102.20 L180.85,104.40 Q180.85,106.00 179.25,106.00 Q175.10,104.92 170.95,106.00 Q169.35,106.00 169.35,104.40 Z" fill="rgb(255,255,255)" filter="url(#bl)"/>
<path d="M184.35,101.20 Q184.35,99.60 185.95,99.60 Q190.80,101.40 195.65,99.60 Q197.25,99.60 197.25,101.20 L197.25,105.40 Q197.25,107.00 195.65,107.00 Q190.80,105.92 185.95,107.00 Q184.35,107.00 184.35,105.40 Z" fill="rgb(255,255,255)" opacity="0.55" filter="url(#bl2)"/>
<path d="M185.05,102.20 Q185.05,100.60 186.65,100.60 Q190.80,102.40 194.95,100.60 Q196.55,100.60 196.55,102.20 L196.55,104.40 Q196.55,106.00 194.95,106.00 Q190.80,104.92 186.65,106.00 Q185.05,106.00 185.05,104.40 Z" fill="rgb(255,255,255)" filter="url(#bl)"/>
<text x="41.00" y="39.60" font-size="6.2" text-anchor="end" font-weight="normal" fill="#000" stroke="#000" stroke-width="0.2" >BM</text>
<text x="41.00" y="70.80" font-size="6.2" text-anchor="end" font-weight="normal" fill="#000" stroke="#000" stroke-width="0.2" >Spleen</text>
<text x="41.00" y="101.20" font-size="6.2" text-anchor="end" font-weight="normal" fill="#000" stroke="#000" stroke-width="0.2" >Thymus</text>
<polygon points="205.30,30.90 215.30,28.60 215.30,33.20" fill="#000"/>
<text x="217.80" y="31.50" font-size="5.9" text-anchor="start" font-weight="normal" fill="#000" stroke="#000" stroke-width="0.08" >Floxed (fl)</text>
<polygon points="205.30,35.50 215.30,33.20 215.30,37.80" fill="#000"/>
<text x="217.80" y="38.40" font-size="5.9" text-anchor="start" font-weight="normal" fill="#000" stroke="#000" stroke-width="0.08" >Wild-type (+)</text>
<polygon points="205.30,42.90 215.30,40.60 215.30,45.20" fill="#000"/>
<text x="217.80" y="45.30" font-size="5.9" text-anchor="start" font-weight="normal" fill="#000" stroke="#000" stroke-width="0.08" >Deleted (Δ)</text>
<line x1="319.90" y1="250.40" x2="365.60" y2="250.40" stroke="#333" stroke-width="1.1"/>
<line x1="319.90" y1="247.60" x2="319.90" y2="253.30" stroke="#333" stroke-width="1.1"/>
<line x1="365.60" y1="247.60" x2="365.60" y2="253.30" stroke="#333" stroke-width="1.1"/>
<line x1="370.70" y1="250.40" x2="416.00" y2="250.40" stroke="#333" stroke-width="1.1"/>
<line x1="370.70" y1="247.60" x2="370.70" y2="253.30" stroke="#333" stroke-width="1.1"/>
<line x1="416.00" y1="247.60" x2="416.00" y2="253.30" stroke="#333" stroke-width="1.1"/>
<line x1="420.50" y1="250.40" x2="465.60" y2="250.40" stroke="#333" stroke-width="1.1"/>
<line x1="420.50" y1="247.60" x2="420.50" y2="253.30" stroke="#333" stroke-width="1.1"/>
<line x1="465.60" y1="247.60" x2="465.60" y2="253.30" stroke="#333" stroke-width="1.1"/>
<text x="343.80" y="248.20" font-size="7.0" text-anchor="middle" font-weight="normal" fill="#000" stroke="#000" stroke-width="0.2" >+/fl</text>
<text x="393.50" y="248.20" font-size="7.0" text-anchor="middle" font-weight="normal" fill="#000" stroke="#000" stroke-width="0.2" >+/Δ</text>
<text x="443.50" y="248.20" font-size="7.0" text-anchor="middle" font-weight="normal" fill="#000" stroke="#000" stroke-width="0.2" >-/Δ</text>
<rect x="316.7" y="256.2" width="153.7" height="30.80" fill="#0c0c0c"/>
<rect x="316.7" y="291.1" width="153.7" height="30.90" fill="#0c0c0c"/>
<rect x="316.7" y="325.9" width="153.7" height="31.10" fill="#2d2d2d"/>
<rect x="316.7" y="361.0" width="153.7" height="32.10" fill="#0f0f0f"/>
<rect x="320.30" y="257.20" width="11" height="28.80" fill="#fff" opacity="0.035" filter="url(#bl)"/>
<rect x="337.30" y="257.20" width="11" height="28.80" fill="#fff" opacity="0.035" filter="url(#bl)"/>
<rect x="354.30" y="257.20" width="11" height="28.80" fill="#fff" opacity="0.035" filter="url(#bl)"/>
<rect x="371.20" y="257.20" width="11" height="28.80" fill="#fff" opacity="0.035" filter="url(#bl)"/>
<rect x="388.50" y="257.20" width="11" height="28.80" fill="#fff" opacity="0.035" filter="url(#bl)"/>
<rect x="405.20" y="257.20" width="11" height="28.80" fill="#fff" opacity="0.035" filter="url(#bl)"/>
<rect x="422.10" y="257.20" width="11" height="28.80" fill="#fff" opacity="0.035" filter="url(#bl)"/>
<rect x="439.30" y="257.20" width="11" height="28.80" fill="#fff" opacity="0.035" filter="url(#bl)"/>
<rect x="456.40" y="257.20" width="11" height="28.80" fill="#fff" opacity="0.035" filter="url(#bl)"/>
<rect x="320.30" y="292.10" width="11" height="28.90" fill="#fff" opacity="0.035" filter="url(#bl)"/>
<rect x="337.30" y="292.10" width="11" height="28.90" fill="#fff" opacity="0.035" filter="url(#bl)"/>
<rect x="354.30" y="292.10" width="11" height="28.90" fill="#fff" opacity="0.035" filter="url(#bl)"/>
<rect x="371.20" y="292.10" width="11" height="28.90" fill="#fff" opacity="0.035" filter="url(#bl)"/>
<rect x="388.50" y="292.10" width="11" height="28.90" fill="#fff" opacity="0.035" filter="url(#bl)"/>
<rect x="405.20" y="292.10" width="11" height="28.90" fill="#fff" opacity="0.035" filter="url(#bl)"/>
<rect x="422.10" y="292.10" width="11" height="28.90" fill="#fff" opacity="0.035" filter="url(#bl)"/>
<rect x="439.30" y="292.10" width="11" height="28.90" fill="#fff" opacity="0.035" filter="url(#bl)"/>
<rect x="456.40" y="292.10" width="11" height="28.90" fill="#fff" opacity="0.035" filter="url(#bl)"/>
<rect x="320.30" y="326.90" width="11" height="29.10" fill="#fff" opacity="0.035" filter="url(#bl)"/>
<rect x="337.30" y="326.90" width="11" height="29.10" fill="#fff" opacity="0.035" filter="url(#bl)"/>
<rect x="354.30" y="326.90" width="11" height="29.10" fill="#fff" opacity="0.035" filter="url(#bl)"/>
<rect x="371.20" y="326.90" width="11" height="29.10" fill="#fff" opacity="0.035" filter="url(#bl)"/>
<rect x="388.50" y="326.90" width="11" height="29.10" fill="#fff" opacity="0.035" filter="url(#bl)"/>
<rect x="405.20" y="326.90" width="11" height="29.10" fill="#fff" opacity="0.035" filter="url(#bl)"/>
<rect x="422.10" y="326.90" width="11" height="29.10" fill="#fff" opacity="0.035" filter="url(#bl)"/>
<rect x="439.30" y="326.90" width="11" height="29.10" fill="#fff" opacity="0.035" filter="url(#bl)"/>
<rect x="456.40" y="326.90" width="11" height="29.10" fill="#fff" opacity="0.035" filter="url(#bl)"/>
<rect x="320.30" y="362.00" width="11" height="30.10" fill="#fff" opacity="0.035" filter="url(#bl)"/>
<rect x="337.30" y="362.00" width="11" height="30.10" fill="#fff" opacity="0.035" filter="url(#bl)"/>
<rect x="354.30" y="362.00" width="11" height="30.10" fill="#fff" opacity="0.035" filter="url(#bl)"/>
<rect x="371.20" y="362.00" width="11" height="30.10" fill="#fff" opacity="0.035" filter="url(#bl)"/>
<rect x="388.50" y="362.00" width="11" height="30.10" fill="#fff" opacity="0.035" filter="url(#bl)"/>
<rect x="405.20" y="362.00" width="11" height="30.10" fill="#fff" opacity="0.035" filter="url(#bl)"/>
<rect x="422.10" y="362.00" width="11" height="30.10" fill="#fff" opacity="0.035" filter="url(#bl)"/>
<rect x="439.30" y="362.00" width="11" height="30.10" fill="#fff" opacity="0.035" filter="url(#bl)"/>
<rect x="456.40" y="362.00" width="11" height="30.10" fill="#fff" opacity="0.035" filter="url(#bl)"/>
<rect x="388.40" y="258.00" width="11.20" height="11.00" fill="url(#sm)" opacity="0.60" filter="url(#bl2)"/>
<rect x="405.10" y="258.00" width="11.20" height="11.00" fill="url(#sm)" opacity="0.60" filter="url(#bl2)"/>
<rect x="371.10" y="293.00" width="11.20" height="10.00" fill="url(#sm)" opacity="0.50" filter="url(#bl2)"/>
<rect x="388.40" y="293.00" width="11.20" height="10.00" fill="url(#sm)" opacity="0.65" filter="url(#bl2)"/>
<rect x="405.10" y="293.00" width="11.20" height="10.00" fill="url(#sm)" opacity="0.60" filter="url(#bl2)"/>
<rect x="405.10" y="363.00" width="11.20" height="13.00" fill="url(#sm)" opacity="0.65" filter="url(#bl2)"/>
<path d="M319.70,265.98 Q319.70,265.30 320.38,265.30 Q325.80,265.98 331.22,265.30 Q331.90,265.30 331.90,265.98 L331.90,266.32 Q331.90,267.00 331.22,267.00 Q325.80,266.59 320.38,267.00 Q319.70,267.00 319.70,266.32 Z" fill="rgb(31,31,31)" filter="url(#bl3)"/>
<path d="M319.70,270.82 Q319.70,270.10 320.42,270.10 Q325.80,270.82 331.18,270.10 Q331.90,270.10 331.90,270.82 L331.90,271.18 Q331.90,271.90 331.18,271.90 Q325.80,271.47 320.42,271.90 Q319.70,271.90 319.70,271.18 Z" fill="rgb(31,31,31)" filter="url(#bl3)"/>
<path d="M336.00,265.40 Q336.00,263.80 337.60,263.80 Q342.80,265.60 348.00,263.80 Q349.60,263.80 349.60,265.40 L349.60,268.60 Q349.60,270.20 348.00,270.20 Q342.80,269.12 337.60,270.20 Q336.00,270.20 336.00,268.60 Z" fill="rgb(156,156,156)" opacity="0.55" filter="url(#bl2)"/>
<path d="M336.70,266.40 Q336.70,264.80 338.30,264.80 Q342.80,266.56 347.30,264.80 Q348.90,264.80 348.90,266.40 L348.90,267.60 Q348.90,269.20 347.30,269.20 Q342.80,268.14 338.30,269.20 Q336.70,269.20 336.70,267.60 Z" fill="rgb(156,156,156)" filter="url(#bl)"/>
<path d="M336.00,269.65 Q336.00,268.05 337.60,268.05 Q342.80,269.85 348.00,268.05 Q349.60,268.05 349.60,269.65 L349.60,273.65 Q349.60,275.25 348.00,275.25 Q342.80,274.17 337.60,275.25 Q336.00,275.25 336.00,273.65 Z" fill="rgb(255,255,255)" opacity="0.55" filter="url(#bl2)"/>
<path d="M336.70,270.65 Q336.70,269.05 338.30,269.05 Q342.80,270.85 347.30,269.05 Q348.90,269.05 348.90,270.65 L348.90,272.65 Q348.90,274.25 347.30,274.25 Q342.80,273.17 338.30,274.25 Q336.70,274.25 336.70,272.65 Z" fill="rgb(255,255,255)" filter="url(#bl)"/>
<path d="M353.00,265.40 Q353.00,263.80 354.60,263.80 Q359.80,265.60 365.00,263.80 Q366.60,263.80 366.60,265.40 L366.60,268.60 Q366.60,270.20 365.00,270.20 Q359.80,269.12 354.60,270.20 Q353.00,270.20 353.00,268.60 Z" fill="rgb(165,165,165)" opacity="0.55" filter="url(#bl2)"/>
<path d="M353.70,266.40 Q353.70,264.80 355.30,264.80 Q359.80,266.56 364.30,264.80 Q365.90,264.80 365.90,266.40 L365.90,267.60 Q365.90,269.20 364.30,269.20 Q359.80,268.14 355.30,269.20 Q353.70,269.20 353.70,267.60 Z" fill="rgb(165,165,165)" filter="url(#bl)"/>
<path d="M353.00,269.65 Q353.00,268.05 354.60,268.05 Q359.80,269.85 365.00,268.05 Q366.60,268.05 366.60,269.65 L366.60,273.65 Q366.60,275.25 365.00,275.25 Q359.80,274.17 354.60,275.25 Q353.00,275.25 353.00,273.65 Z" fill="rgb(255,255,255)" opacity="0.55" filter="url(#bl2)"/>
<path d="M353.70,270.65 Q353.70,269.05 355.30,269.05 Q359.80,270.85 364.30,269.05 Q365.90,269.05 365.90,270.65 L365.90,272.65 Q365.90,274.25 364.30,274.25 Q359.80,273.17 355.30,274.25 Q353.70,274.25 353.70,272.65 Z" fill="rgb(255,255,255)" filter="url(#bl)"/>
<path d="M387.20,269.55 Q387.20,267.95 388.80,267.95 Q394.00,269.75 399.20,267.95 Q400.80,267.95 400.80,269.55 L400.80,273.75 Q400.80,275.35 399.20,275.35 Q394.00,274.27 388.80,275.35 Q387.20,275.35 387.20,273.75 Z" fill="rgb(255,255,255)" opacity="0.55" filter="url(#bl2)"/>
<path d="M387.90,270.55 Q387.90,268.95 389.50,268.95 Q394.00,270.75 398.50,268.95 Q400.10,268.95 400.10,270.55 L400.10,272.75 Q400.10,274.35 398.50,274.35 Q394.00,273.27 389.50,274.35 Q387.90,274.35 387.90,272.75 Z" fill="rgb(255,255,255)" filter="url(#bl)"/>
<path d="M387.20,277.65 Q387.20,276.05 388.80,276.05 Q394.00,277.85 399.20,276.05 Q400.80,276.05 400.80,277.65 L400.80,282.35 Q400.80,283.95 399.20,283.95 Q394.00,282.87 388.80,283.95 Q387.20,283.95 387.20,282.35 Z" fill="rgb(255,255,255)" opacity="0.55" filter="url(#bl2)"/>
<path d="M387.90,278.65 Q387.90,277.05 389.50,277.05 Q394.00,278.85 398.50,277.05 Q400.10,277.05 400.10,278.65 L400.10,281.35 Q400.10,282.95 398.50,282.95 Q394.00,281.87 389.50,282.95 Q387.90,282.95 387.90,281.35 Z" fill="rgb(255,255,255)" filter="url(#bl)"/>
<path d="M403.90,269.55 Q403.90,267.95 405.50,267.95 Q410.70,269.75 415.90,267.95 Q417.50,267.95 417.50,269.55 L417.50,273.75 Q417.50,275.35 415.90,275.35 Q410.70,274.27 405.50,275.35 Q403.90,275.35 403.90,273.75 Z" fill="rgb(255,255,255)" opacity="0.55" filter="url(#bl2)"/>
<path d="M404.60,270.55 Q404.60,268.95 406.20,268.95 Q410.70,270.75 415.20,268.95 Q416.80,268.95 416.80,270.55 L416.80,272.75 Q416.80,274.35 415.20,274.35 Q410.70,273.27 406.20,274.35 Q404.60,274.35 404.60,272.75 Z" fill="rgb(255,255,255)" filter="url(#bl)"/>
<path d="M403.90,277.65 Q403.90,276.05 405.50,276.05 Q410.70,277.85 415.90,276.05 Q417.50,276.05 417.50,277.65 L417.50,282.35 Q417.50,283.95 415.90,283.95 Q410.70,282.87 405.50,283.95 Q403.90,283.95 403.90,282.35 Z" fill="rgb(255,255,255)" opacity="0.55" filter="url(#bl2)"/>
<path d="M404.60,278.65 Q404.60,277.05 406.20,277.05 Q410.70,278.85 415.20,277.05 Q416.80,277.05 416.80,278.65 L416.80,281.35 Q416.80,282.95 415.20,282.95 Q410.70,281.87 406.20,282.95 Q404.60,282.95 404.60,281.35 Z" fill="rgb(255,255,255)" filter="url(#bl)"/>
<path d="M420.80,278.15 Q420.80,276.55 422.40,276.55 Q427.60,278.35 432.80,276.55 Q434.40,276.55 434.40,278.15 L434.40,281.65 Q434.40,283.25 432.80,283.25 Q427.60,282.17 422.40,283.25 Q420.80,283.25 420.80,281.65 Z" fill="rgb(243,243,243)" opacity="0.55" filter="url(#bl2)"/>
<path d="M421.50,279.15 Q421.50,277.55 423.10,277.55 Q427.60,279.35 432.10,277.55 Q433.70,277.55 433.70,279.15 L433.70,280.65 Q433.70,282.25 432.10,282.25 Q427.60,281.17 423.10,282.25 Q421.50,282.25 421.50,280.65 Z" fill="rgb(243,243,243)" filter="url(#bl)"/>
<path d="M438.00,277.95 Q438.00,276.35 439.60,276.35 Q444.80,278.15 450.00,276.35 Q451.60,276.35 451.60,277.95 L451.60,281.65 Q451.60,283.25 450.00,283.25 Q444.80,282.17 439.60,283.25 Q438.00,283.25 438.00,281.65 Z" fill="rgb(255,255,255)" opacity="0.55" filter="url(#bl2)"/>
<path d="M438.70,278.95 Q438.70,277.35 440.30,277.35 Q444.80,279.15 449.30,277.35 Q450.90,277.35 450.90,278.95 L450.90,280.65 Q450.90,282.25 449.30,282.25 Q444.80,281.17 440.30,282.25 Q438.70,282.25 438.70,280.65 Z" fill="rgb(255,255,255)" filter="url(#bl)"/>
<path d="M455.10,278.15 Q455.10,276.55 456.70,276.55 Q461.90,278.35 467.10,276.55 Q468.70,276.55 468.70,278.15 L468.70,281.65 Q468.70,283.25 467.10,283.25 Q461.90,282.17 456.70,283.25 Q455.10,283.25 455.10,281.65 Z" fill="rgb(243,243,243)" opacity="0.55" filter="url(#bl2)"/>
<path d="M455.80,279.15 Q455.80,277.55 457.40,277.55 Q461.90,279.35 466.40,277.55 Q468.00,277.55 468.00,279.15 L468.00,280.65 Q468.00,282.25 466.40,282.25 Q461.90,281.17 457.40,282.25 Q455.80,282.25 455.80,280.65 Z" fill="rgb(243,243,243)" filter="url(#bl)"/>
<path d="M319.00,299.45 Q319.00,297.85 320.60,297.85 Q325.80,299.65 331.00,297.85 Q332.60,297.85 332.60,299.45 L332.60,307.95 Q332.60,309.55 331.00,309.55 Q325.80,308.47 320.60,309.55 Q319.00,309.55 319.00,307.95 Z" fill="rgb(255,255,255)" opacity="0.55" filter="url(#bl2)"/>
<path d="M319.70,300.45 Q319.70,298.85 321.30,298.85 Q325.80,300.65 330.30,298.85 Q331.90,298.85 331.90,300.45 L331.90,306.95 Q331.90,308.55 330.30,308.55 Q325.80,307.47 321.30,308.55 Q319.70,308.55 319.70,306.95 Z" fill="rgb(255,255,255)" filter="url(#bl)"/>
<path d="M336.00,299.45 Q336.00,297.85 337.60,297.85 Q342.80,299.65 348.00,297.85 Q349.60,297.85 349.60,299.45 L349.60,307.95 Q349.60,309.55 348.00,309.55 Q342.80,308.47 337.60,309.55 Q336.00,309.55 336.00,307.95 Z" fill="rgb(255,255,255)" opacity="0.55" filter="url(#bl2)"/>
<path d="M336.70,300.45 Q336.70,298.85 338.30,298.85 Q342.80,300.65 347.30,298.85 Q348.90,298.85 348.90,300.45 L348.90,306.95 Q348.90,308.55 347.30,308.55 Q342.80,307.47 338.30,308.55 Q336.70,308.55 336.70,306.95 Z" fill="rgb(255,255,255)" filter="url(#bl)"/>
<path d="M353.00,299.45 Q353.00,297.85 354.60,297.85 Q359.80,299.65 365.00,297.85 Q366.60,297.85 366.60,299.45 L366.60,307.95 Q366.60,309.55 365.00,309.55 Q359.80,308.47 354.60,309.55 Q353.00,309.55 353.00,307.95 Z" fill="rgb(255,255,255)" opacity="0.55" filter="url(#bl2)"/>
<path d="M353.70,300.45 Q353.70,298.85 355.30,298.85 Q359.80,300.65 364.30,298.85 Q365.90,298.85 365.90,300.45 L365.90,306.95 Q365.90,308.55 364.30,308.55 Q359.80,307.47 355.30,308.55 Q353.70,308.55 353.70,306.95 Z" fill="rgb(255,255,255)" filter="url(#bl)"/>
<path d="M369.90,303.75 Q369.90,302.15 371.50,302.15 Q376.70,303.95 381.90,302.15 Q383.50,302.15 383.50,303.75 L383.50,308.25 Q383.50,309.85 381.90,309.85 Q376.70,308.77 371.50,309.85 Q369.90,309.85 369.90,308.25 Z" fill="rgb(255,255,255)" opacity="0.55" filter="url(#bl2)"/>
<path d="M370.60,304.75 Q370.60,303.15 372.20,303.15 Q376.70,304.95 381.20,303.15 Q382.80,303.15 382.80,304.75 L382.80,307.25 Q382.80,308.85 381.20,308.85 Q376.70,307.77 372.20,308.85 Q370.60,308.85 370.60,307.25 Z" fill="rgb(255,255,255)" filter="url(#bl)"/>
<path d="M369.90,312.45 Q369.90,310.85 371.50,310.85 Q376.70,312.65 381.90,310.85 Q383.50,310.85 383.50,312.45 L383.50,317.05 Q383.50,318.65 381.90,318.65 Q376.70,317.57 371.50,318.65 Q369.90,318.65 369.90,317.05 Z" fill="rgb(255,255,255)" opacity="0.55" filter="url(#bl2)"/>
<path d="M370.60,313.45 Q370.60,311.85 372.20,311.85 Q376.70,313.65 381.20,311.85 Q382.80,311.85 382.80,313.45 L382.80,316.05 Q382.80,317.65 381.20,317.65 Q376.70,316.57 372.20,317.65 Q370.60,317.65 370.60,316.05 Z" fill="rgb(255,255,255)" filter="url(#bl)"/>
<path d="M387.20,303.75 Q387.20,302.15 388.80,302.15 Q394.00,303.95 399.20,302.15 Q400.80,302.15 400.80,303.75 L400.80,308.25 Q400.80,309.85 399.20,309.85 Q394.00,308.77 388.80,309.85 Q387.20,309.85 387.20,308.25 Z" fill="rgb(255,255,255)" opacity="0.55" filter="url(#bl2)"/>
<path d="M387.90,304.75 Q387.90,303.15 389.50,303.15 Q394.00,304.95 398.50,303.15 Q400.10,303.15 400.10,304.75 L400.10,307.25 Q400.10,308.85 398.50,308.85 Q394.00,307.77 389.50,308.85 Q387.90,308.85 387.90,307.25 Z" fill="rgb(255,255,255)" filter="url(#bl)"/>
<path d="M387.20,312.45 Q387.20,310.85 388.80,310.85 Q394.00,312.65 399.20,310.85 Q400.80,310.85 400.80,312.45 L400.80,317.05 Q400.80,318.65 399.20,318.65 Q394.00,317.57 388.80,318.65 Q387.20,318.65 387.20,317.05 Z" fill="rgb(255,255,255)" opacity="0.55" filter="url(#bl2)"/>
<path d="M387.90,313.45 Q387.90,311.85 389.50,311.85 Q394.00,313.65 398.50,311.85 Q400.10,311.85 400.10,313.45 L400.10,316.05 Q400.10,317.65 398.50,317.65 Q394.00,316.57 389.50,317.65 Q387.90,317.65 387.90,316.05 Z" fill="rgb(255,255,255)" filter="url(#bl)"/>
<path d="M403.90,303.75 Q403.90,302.15 405.50,302.15 Q410.70,303.95 415.90,302.15 Q417.50,302.15 417.50,303.75 L417.50,308.25 Q417.50,309.85 415.90,309.85 Q410.70,308.77 405.50,309.85 Q403.90,309.85 403.90,308.25 Z" fill="rgb(250,250,250)" opacity="0.55" filter="url(#bl2)"/>
<path d="M404.60,304.75 Q404.60,303.15 406.20,303.15 Q410.70,304.95 415.20,303.15 Q416.80,303.15 416.80,304.75 L416.80,307.25 Q416.80,308.85 415.20,308.85 Q410.70,307.77 406.20,308.85 Q404.60,308.85 404.60,307.25 Z" fill="rgb(250,250,250)" filter="url(#bl)"/>
<path d="M403.90,312.45 Q403.90,310.85 405.50,310.85 Q410.70,312.65 415.90,310.85 Q417.50,310.85 417.50,312.45 L417.50,317.05 Q417.50,318.65 415.90,318.65 Q410.70,317.57 405.50,318.65 Q403.90,318.65 403.90,317.05 Z" fill="rgb(255,255,255)" opacity="0.55" filter="url(#bl2)"/>
<path d="M404.60,313.45 Q404.60,311.85 406.20,311.85 Q410.70,313.65 415.20,311.85 Q416.80,311.85 416.80,313.45 L416.80,316.05 Q416.80,317.65 415.20,317.65 Q410.70,316.57 406.20,317.65 Q404.60,317.65 404.60,316.05 Z" fill="rgb(255,255,255)" filter="url(#bl)"/>
<path d="M421.50,299.58 Q421.50,298.70 422.38,298.70 Q427.60,299.58 432.82,298.70 Q433.70,298.70 433.70,299.58 L433.70,300.02 Q433.70,300.90 432.82,300.90 Q427.60,300.37 422.38,300.90 Q421.50,300.90 421.50,300.02 Z" fill="rgb(43,43,43)" filter="url(#bl3)"/>
<path d="M420.80,313.50 Q420.80,311.90 422.40,311.90 Q427.60,313.70 432.80,311.90 Q434.40,311.90 434.40,313.50 L434.40,315.30 Q434.40,316.90 432.80,316.90 Q427.60,315.82 422.40,316.90 Q420.80,316.90 420.80,315.30 Z" fill="rgb(104,104,104)" opacity="0.55" filter="url(#bl2)"/>
<path d="M421.50,314.10 Q421.50,312.90 422.70,312.90 Q427.60,314.10 432.50,312.90 Q433.70,312.90 433.70,314.10 L433.70,314.70 Q433.70,315.90 432.50,315.90 Q427.60,315.18 422.70,315.90 Q421.50,315.90 421.50,314.70 Z" fill="rgb(104,104,104)" filter="url(#bl3)"/>
<path d="M438.70,299.66 Q438.70,298.50 439.86,298.50 Q444.80,299.66 449.74,298.50 Q450.90,298.50 450.90,299.66 L450.90,300.24 Q450.90,301.40 449.74,301.40 Q444.80,300.70 439.86,301.40 Q438.70,301.40 438.70,300.24 Z" fill="rgb(90,90,90)" filter="url(#bl3)"/>
<path d="M438.00,312.35 Q438.00,310.75 439.60,310.75 Q444.80,312.55 450.00,310.75 Q451.60,310.75 451.60,312.35 L451.60,316.55 Q451.60,318.15 450.00,318.15 Q444.80,317.07 439.60,318.15 Q438.00,318.15 438.00,316.55 Z" fill="rgb(255,255,255)" opacity="0.55" filter="url(#bl2)"/>
<path d="M438.70,313.35 Q438.70,311.75 440.30,311.75 Q444.80,313.55 449.30,311.75 Q450.90,311.75 450.90,313.35 L450.90,315.55 Q450.90,317.15 449.30,317.15 Q444.80,316.07 440.30,317.15 Q438.70,317.15 438.70,315.55 Z" fill="rgb(255,255,255)" filter="url(#bl)"/>
<path d="M455.80,299.58 Q455.80,298.50 456.88,298.50 Q461.90,299.58 466.92,298.50 Q468.00,298.50 468.00,299.58 L468.00,300.12 Q468.00,301.20 466.92,301.20 Q461.90,300.55 456.88,301.20 Q455.80,301.20 455.80,300.12 Z" fill="rgb(83,83,83)" filter="url(#bl3)"/>
<path d="M455.10,312.85 Q455.10,311.25 456.70,311.25 Q461.90,313.05 467.10,311.25 Q468.70,311.25 468.70,312.85 L468.70,315.95 Q468.70,317.55 467.10,317.55 Q461.90,316.47 456.70,317.55 Q455.10,317.55 455.10,315.95 Z" fill="rgb(236,236,236)" opacity="0.55" filter="url(#bl2)"/>
<path d="M455.80,313.85 Q455.80,312.25 457.40,312.25 Q461.90,313.97 466.40,312.25 Q468.00,312.25 468.00,313.85 L468.00,314.95 Q468.00,316.55 466.40,316.55 Q461.90,315.52 457.40,316.55 Q455.80,316.55 455.80,314.95 Z" fill="rgb(236,236,236)" filter="url(#bl)"/>
<path d="M319.00,336.60 Q319.00,335.00 320.60,335.00 Q325.80,336.80 331.00,335.00 Q332.60,335.00 332.60,336.60 L332.60,338.50 Q332.60,340.10 331.00,340.10 Q325.80,339.02 320.60,340.10 Q319.00,340.10 319.00,338.50 Z" fill="rgb(219,219,219)" opacity="0.55" filter="url(#bl2)"/>
<path d="M319.70,337.24 Q319.70,336.00 320.94,336.00 Q325.80,337.24 330.66,336.00 Q331.90,336.00 331.90,337.24 L331.90,337.86 Q331.90,339.10 330.66,339.10 Q325.80,338.36 320.94,339.10 Q319.70,339.10 319.70,337.86 Z" fill="rgb(219,219,219)" filter="url(#bl)"/>
<path d="M319.00,340.65 Q319.00,339.05 320.60,339.05 Q325.80,340.85 331.00,339.05 Q332.60,339.05 332.60,340.65 L332.60,343.65 Q332.60,345.25 331.00,345.25 Q325.80,344.17 320.60,345.25 Q319.00,345.25 319.00,343.65 Z" fill="rgb(255,255,255)" opacity="0.55" filter="url(#bl2)"/>
<path d="M319.70,341.65 Q319.70,340.05 321.30,340.05 Q325.80,341.73 330.30,340.05 Q331.90,340.05 331.90,341.65 L331.90,342.65 Q331.90,344.25 330.30,344.25 Q325.80,343.24 321.30,344.25 Q319.70,344.25 319.70,342.65 Z" fill="rgb(255,255,255)" filter="url(#bl)"/>
<path d="M336.00,336.80 Q336.00,335.20 337.60,335.20 Q342.80,337.00 348.00,335.20 Q349.60,335.20 349.60,336.80 L349.60,338.40 Q349.60,340.00 348.00,340.00 Q342.80,338.92 337.60,340.00 Q336.00,340.00 336.00,338.40 Z" fill="rgb(114,114,114)" opacity="0.55" filter="url(#bl2)"/>
<path d="M336.70,337.32 Q336.70,336.20 337.82,336.20 Q342.80,337.32 347.78,336.20 Q348.90,336.20 348.90,337.32 L348.90,337.88 Q348.90,339.00 347.78,339.00 Q342.80,338.33 337.82,339.00 Q336.70,339.00 336.70,337.88 Z" fill="rgb(114,114,114)" filter="url(#bl3)"/>
<path d="M336.00,341.00 Q336.00,339.40 337.60,339.40 Q342.80,341.20 348.00,339.40 Q349.60,339.40 349.60,341.00 L349.60,343.00 Q349.60,344.60 348.00,344.60 Q342.80,343.52 337.60,344.60 Q336.00,344.60 336.00,343.00 Z" fill="rgb(165,165,165)" opacity="0.55" filter="url(#bl2)"/>
<path d="M336.70,341.68 Q336.70,340.40 337.98,340.40 Q342.80,341.68 347.62,340.40 Q348.90,340.40 348.90,341.68 L348.90,342.32 Q348.90,343.60 347.62,343.60 Q342.80,342.83 337.98,343.60 Q336.70,343.60 336.70,342.32 Z" fill="rgb(165,165,165)" filter="url(#bl)"/>
<path d="M353.00,336.60 Q353.00,335.00 354.60,335.00 Q359.80,336.80 365.00,335.00 Q366.60,335.00 366.60,336.60 L366.60,338.50 Q366.60,340.10 365.00,340.10 Q359.80,339.02 354.60,340.10 Q353.00,340.10 353.00,338.50 Z" fill="rgb(189,189,189)" opacity="0.55" filter="url(#bl2)"/>
<path d="M353.70,337.24 Q353.70,336.00 354.94,336.00 Q359.80,337.24 364.66,336.00 Q365.90,336.00 365.90,337.24 L365.90,337.86 Q365.90,339.10 364.66,339.10 Q359.80,338.36 354.94,339.10 Q353.70,339.10 353.70,337.86 Z" fill="rgb(189,189,189)" filter="url(#bl)"/>
<path d="M353.00,340.65 Q353.00,339.05 354.60,339.05 Q359.80,340.85 365.00,339.05 Q366.60,339.05 366.60,340.65 L366.60,343.65 Q366.60,345.25 365.00,345.25 Q359.80,344.17 354.60,345.25 Q353.00,345.25 353.00,343.65 Z" fill="rgb(243,243,243)" opacity="0.55" filter="url(#bl2)"/>
<path d="M353.70,341.65 Q353.70,340.05 355.30,340.05 Q359.80,341.73 364.30,340.05 Q365.90,340.05 365.90,341.65 L365.90,342.65 Q365.90,344.25 364.30,344.25 Q359.80,343.24 355.30,344.25 Q353.70,344.25 353.70,342.65 Z" fill="rgb(243,243,243)" filter="url(#bl)"/>
<path d="M370.60,337.44 Q370.60,336.60 371.44,336.60 Q376.70,337.44 381.96,336.60 Q382.80,336.60 382.80,337.44 L382.80,337.86 Q382.80,338.70 381.96,338.70 Q376.70,338.20 371.44,338.70 Q370.60,338.70 370.60,337.86 Z" fill="rgb(62,62,62)" filter="url(#bl3)"/>
<path d="M369.90,341.30 Q369.90,339.70 371.50,339.70 Q376.70,341.50 381.90,339.70 Q383.50,339.70 383.50,341.30 L383.50,343.40 Q383.50,345.00 381.90,345.00 Q376.70,343.92 371.50,345.00 Q369.90,345.00 369.90,343.40 Z" fill="rgb(165,165,165)" opacity="0.55" filter="url(#bl2)"/>
<path d="M370.60,342.02 Q370.60,340.70 371.92,340.70 Q376.70,342.02 381.48,340.70 Q382.80,340.70 382.80,342.02 L382.80,342.68 Q382.80,344.00 381.48,344.00 Q376.70,343.21 371.92,344.00 Q370.60,344.00 370.60,342.68 Z" fill="rgb(165,165,165)" filter="url(#bl)"/>
<path d="M369.90,348.75 Q369.90,347.15 371.50,347.15 Q376.70,348.95 381.90,347.15 Q383.50,347.15 383.50,348.75 L383.50,351.85 Q383.50,353.45 381.90,353.45 Q376.70,352.37 371.50,353.45 Q369.90,353.45 369.90,351.85 Z" fill="rgb(255,255,255)" opacity="0.55" filter="url(#bl2)"/>
<path d="M370.60,349.75 Q370.60,348.15 372.20,348.15 Q376.70,349.87 381.20,348.15 Q382.80,348.15 382.80,349.75 L382.80,350.85 Q382.80,352.45 381.20,352.45 Q376.70,351.42 372.20,352.45 Q370.60,352.45 370.60,350.85 Z" fill="rgb(255,255,255)" filter="url(#bl)"/>
<path d="M387.20,341.30 Q387.20,339.70 388.80,339.70 Q394.00,341.50 399.20,339.70 Q400.80,339.70 400.80,341.30 L400.80,343.40 Q400.80,345.00 399.20,345.00 Q394.00,343.92 388.80,345.00 Q387.20,345.00 387.20,343.40 Z" fill="rgb(132,132,132)" opacity="0.55" filter="url(#bl2)"/>
<path d="M387.90,342.02 Q387.90,340.70 389.22,340.70 Q394.00,342.02 398.78,340.70 Q400.10,340.70 400.10,342.02 L400.10,342.68 Q400.10,344.00 398.78,344.00 Q394.00,343.21 389.22,344.00 Q387.90,344.00 387.90,342.68 Z" fill="rgb(132,132,132)" filter="url(#bl)"/>
<path d="M387.20,349.10 Q387.20,347.50 388.80,347.50 Q394.00,349.30 399.20,347.50 Q400.80,347.50 400.80,349.10 L400.80,351.50 Q400.80,353.10 399.20,353.10 Q394.00,352.02 388.80,353.10 Q387.20,353.10 387.20,351.50 Z" fill="rgb(179,179,179)" opacity="0.55" filter="url(#bl2)"/>
<path d="M387.90,349.94 Q387.90,348.50 389.34,348.50 Q394.00,349.94 398.66,348.50 Q400.10,348.50 400.10,349.94 L400.10,350.66 Q400.10,352.10 398.66,352.10 Q394.00,351.24 389.34,352.10 Q387.90,352.10 387.90,350.66 Z" fill="rgb(179,179,179)" filter="url(#bl)"/>
<path d="M403.90,341.30 Q403.90,339.70 405.50,339.70 Q410.70,341.50 415.90,339.70 Q417.50,339.70 417.50,341.30 L417.50,343.40 Q417.50,345.00 415.90,345.00 Q410.70,343.92 405.50,345.00 Q403.90,345.00 403.90,343.40 Z" fill="rgb(203,203,203)" opacity="0.55" filter="url(#bl2)"/>
<path d="M404.60,342.02 Q404.60,340.70 405.92,340.70 Q410.70,342.02 415.48,340.70 Q416.80,340.70 416.80,342.02 L416.80,342.68 Q416.80,344.00 415.48,344.00 Q410.70,343.21 405.92,344.00 Q404.60,344.00 404.60,342.68 Z" fill="rgb(203,203,203)" filter="url(#bl)"/>
<path d="M403.90,348.75 Q403.90,347.15 405.50,347.15 Q410.70,348.95 415.90,347.15 Q417.50,347.15 417.50,348.75 L417.50,351.85 Q417.50,353.45 415.90,353.45 Q410.70,352.37 405.50,353.45 Q403.90,353.45 403.90,351.85 Z" fill="rgb(255,255,255)" opacity="0.55" filter="url(#bl2)"/>
<path d="M404.60,349.75 Q404.60,348.15 406.20,348.15 Q410.70,349.87 415.20,348.15 Q416.80,348.15 416.80,349.75 L416.80,350.85 Q416.80,352.45 415.20,352.45 Q410.70,351.42 406.20,352.45 Q404.60,352.45 404.60,350.85 Z" fill="rgb(255,255,255)" filter="url(#bl)"/>
<path d="M421.50,337.16 Q421.50,336.20 422.46,336.20 Q427.60,337.16 432.74,336.20 Q433.70,336.20 433.70,337.16 L433.70,337.64 Q433.70,338.60 432.74,338.60 Q427.60,338.02 422.46,338.60 Q421.50,338.60 421.50,337.64 Z" fill="rgb(71,71,71)" filter="url(#bl3)"/>
<path d="M420.80,348.25 Q420.80,346.65 422.40,346.65 Q427.60,348.45 432.80,346.65 Q434.40,346.65 434.40,348.25 L434.40,352.55 Q434.40,354.15 432.80,354.15 Q427.60,353.07 422.40,354.15 Q420.80,354.15 420.80,352.55 Z" fill="rgb(255,255,255)" opacity="0.55" filter="url(#bl2)"/>
<path d="M421.50,349.25 Q421.50,347.65 423.10,347.65 Q427.60,349.45 432.10,347.65 Q433.70,347.65 433.70,349.25 L433.70,351.55 Q433.70,353.15 432.10,353.15 Q427.60,352.07 423.10,353.15 Q421.50,353.15 421.50,351.55 Z" fill="rgb(255,255,255)" filter="url(#bl)"/>
<path d="M438.00,336.60 Q438.00,335.00 439.60,335.00 Q444.80,336.80 450.00,335.00 Q451.60,335.00 451.60,336.60 L451.60,338.20 Q451.60,339.80 450.00,339.80 Q444.80,338.72 439.60,339.80 Q438.00,339.80 438.00,338.20 Z" fill="rgb(95,95,95)" opacity="0.55" filter="url(#bl2)"/>
<path d="M438.70,337.12 Q438.70,336.00 439.82,336.00 Q444.80,337.12 449.78,336.00 Q450.90,336.00 450.90,337.12 L450.90,337.68 Q450.90,338.80 449.78,338.80 Q444.80,338.13 439.82,338.80 Q438.70,338.80 438.70,337.68 Z" fill="rgb(95,95,95)" filter="url(#bl3)"/>
<path d="M438.00,348.25 Q438.00,346.65 439.60,346.65 Q444.80,348.45 450.00,346.65 Q451.60,346.65 451.60,348.25 L451.60,352.55 Q451.60,354.15 450.00,354.15 Q444.80,353.07 439.60,354.15 Q438.00,354.15 438.00,352.55 Z" fill="rgb(255,255,255)" opacity="0.55" filter="url(#bl2)"/>
<path d="M438.70,349.25 Q438.70,347.65 440.30,347.65 Q444.80,349.45 449.30,347.65 Q450.90,347.65 450.90,349.25 L450.90,351.55 Q450.90,353.15 449.30,353.15 Q444.80,352.07 440.30,353.15 Q438.70,353.15 438.70,351.55 Z" fill="rgb(255,255,255)" filter="url(#bl)"/>
<path d="M455.80,337.16 Q455.80,336.20 456.76,336.20 Q461.90,337.16 467.04,336.20 Q468.00,336.20 468.00,337.16 L468.00,337.64 Q468.00,338.60 467.04,338.60 Q461.90,338.02 456.76,338.60 Q455.80,338.60 455.80,337.64 Z" fill="rgb(62,62,62)" filter="url(#bl3)"/>
<path d="M455.10,348.25 Q455.10,346.65 456.70,346.65 Q461.90,348.45 467.10,346.65 Q468.70,346.65 468.70,348.25 L468.70,352.55 Q468.70,354.15 467.10,354.15 Q461.90,353.07 456.70,354.15 Q455.10,354.15 455.10,352.55 Z" fill="rgb(255,255,255)" opacity="0.55" filter="url(#bl2)"/>
<path d="M455.80,349.25 Q455.80,347.65 457.40,347.65 Q461.90,349.45 466.40,347.65 Q468.00,347.65 468.00,349.25 L468.00,351.55 Q468.00,353.15 466.40,353.15 Q461.90,352.07 457.40,353.15 Q455.80,353.15 455.80,351.55 Z" fill="rgb(255,255,255)" filter="url(#bl)"/>
<path d="M319.00,371.80 Q319.00,370.20 320.60,370.20 Q325.80,372.00 331.00,370.20 Q332.60,370.20 332.60,371.80 L332.60,373.70 Q332.60,375.30 331.00,375.30 Q325.80,374.22 320.60,375.30 Q319.00,375.30 319.00,373.70 Z" fill="rgb(165,165,165)" opacity="0.55" filter="url(#bl2)"/>
<path d="M319.70,372.44 Q319.70,371.20 320.94,371.20 Q325.80,372.44 330.66,371.20 Q331.90,371.20 331.90,372.44 L331.90,373.06 Q331.90,374.30 330.66,374.30 Q325.80,373.56 320.94,374.30 Q319.70,374.30 319.70,373.06 Z" fill="rgb(165,165,165)" filter="url(#bl)"/>
<path d="M319.00,376.15 Q319.00,374.55 320.60,374.55 Q325.80,376.35 331.00,374.55 Q332.60,374.55 332.60,376.15 L332.60,378.65 Q332.60,380.25 331.00,380.25 Q325.80,379.17 320.60,380.25 Q319.00,380.25 319.00,378.65 Z" fill="rgb(236,236,236)" opacity="0.55" filter="url(#bl2)"/>
<path d="M319.70,377.03 Q319.70,375.55 321.18,375.55 Q325.80,377.03 330.42,375.55 Q331.90,375.55 331.90,377.03 L331.90,377.77 Q331.90,379.25 330.42,379.25 Q325.80,378.36 321.18,379.25 Q319.70,379.25 319.70,377.77 Z" fill="rgb(236,236,236)" filter="url(#bl)"/>
<path d="M336.00,371.80 Q336.00,370.20 337.60,370.20 Q342.80,372.00 348.00,370.20 Q349.60,370.20 349.60,371.80 L349.60,373.70 Q349.60,375.30 348.00,375.30 Q342.80,374.22 337.60,375.30 Q336.00,375.30 336.00,373.70 Z" fill="rgb(165,165,165)" opacity="0.55" filter="url(#bl2)"/>
<path d="M336.70,372.44 Q336.70,371.20 337.94,371.20 Q342.80,372.44 347.66,371.20 Q348.90,371.20 348.90,372.44 L348.90,373.06 Q348.90,374.30 347.66,374.30 Q342.80,373.56 337.94,374.30 Q336.70,374.30 336.70,373.06 Z" fill="rgb(165,165,165)" filter="url(#bl)"/>
<path d="M336.00,376.15 Q336.00,374.55 337.60,374.55 Q342.80,376.35 348.00,374.55 Q349.60,374.55 349.60,376.15 L349.60,378.65 Q349.60,380.25 348.00,380.25 Q342.80,379.17 337.60,380.25 Q336.00,380.25 336.00,378.65 Z" fill="rgb(243,243,243)" opacity="0.55" filter="url(#bl2)"/>
<path d="M336.70,377.03 Q336.70,375.55 338.18,375.55 Q342.80,377.03 347.42,375.55 Q348.90,375.55 348.90,377.03 L348.90,377.77 Q348.90,379.25 347.42,379.25 Q342.80,378.36 338.18,379.25 Q336.70,379.25 336.70,377.77 Z" fill="rgb(243,243,243)" filter="url(#bl)"/>
<path d="M353.00,371.80 Q353.00,370.20 354.60,370.20 Q359.80,372.00 365.00,370.20 Q366.60,370.20 366.60,371.80 L366.60,373.70 Q366.60,375.30 365.00,375.30 Q359.80,374.22 354.60,375.30 Q353.00,375.30 353.00,373.70 Z" fill="rgb(114,114,114)" opacity="0.55" filter="url(#bl2)"/>
<path d="M353.70,372.44 Q353.70,371.20 354.94,371.20 Q359.80,372.44 364.66,371.20 Q365.90,371.20 365.90,372.44 L365.90,373.06 Q365.90,374.30 364.66,374.30 Q359.80,373.56 354.94,374.30 Q353.70,374.30 353.70,373.06 Z" fill="rgb(114,114,114)" filter="url(#bl3)"/>
<path d="M353.00,376.50 Q353.00,374.90 354.60,374.90 Q359.80,376.70 365.00,374.90 Q366.60,374.90 366.60,376.50 L366.60,378.30 Q366.60,379.90 365.00,379.90 Q359.80,378.82 354.60,379.90 Q353.00,379.90 353.00,378.30 Z" fill="rgb(137,137,137)" opacity="0.55" filter="url(#bl2)"/>
<path d="M353.70,377.10 Q353.70,375.90 354.90,375.90 Q359.80,377.10 364.70,375.90 Q365.90,375.90 365.90,377.10 L365.90,377.70 Q365.90,378.90 364.70,378.90 Q359.80,378.18 354.90,378.90 Q353.70,378.90 353.70,377.70 Z" fill="rgb(137,137,137)" filter="url(#bl)"/>
<path d="M369.90,376.90 Q369.90,375.30 371.50,375.30 Q376.70,377.10 381.90,375.30 Q383.50,375.30 383.50,376.90 L383.50,378.80 Q383.50,380.40 381.90,380.40 Q376.70,379.32 371.50,380.40 Q369.90,380.40 369.90,378.80 Z" fill="rgb(179,179,179)" opacity="0.55" filter="url(#bl2)"/>
<path d="M370.60,377.54 Q370.60,376.30 371.84,376.30 Q376.70,377.54 381.56,376.30 Q382.80,376.30 382.80,377.54 L382.80,378.16 Q382.80,379.40 381.56,379.40 Q376.70,378.66 371.84,379.40 Q370.60,379.40 370.60,378.16 Z" fill="rgb(179,179,179)" filter="url(#bl)"/>
<path d="M369.90,384.10 Q369.90,382.50 371.50,382.50 Q376.70,384.30 381.90,382.50 Q383.50,382.50 383.50,384.10 L383.50,386.30 Q383.50,387.90 381.90,387.90 Q376.70,386.82 371.50,387.90 Q369.90,387.90 369.90,386.30 Z" fill="rgb(212,212,212)" opacity="0.55" filter="url(#bl2)"/>
<path d="M370.60,384.86 Q370.60,383.50 371.96,383.50 Q376.70,384.86 381.44,383.50 Q382.80,383.50 382.80,384.86 L382.80,385.54 Q382.80,386.90 381.44,386.90 Q376.70,386.08 371.96,386.90 Q370.60,386.90 370.60,385.54 Z" fill="rgb(212,212,212)" filter="url(#bl)"/>
<path d="M387.20,384.40 Q387.20,382.80 388.80,382.80 Q394.00,384.60 399.20,382.80 Q400.80,382.80 400.80,384.40 L400.80,386.00 Q400.80,387.60 399.20,387.60 Q394.00,386.52 388.80,387.60 Q387.20,387.60 387.20,386.00 Z" fill="rgb(104,104,104)" opacity="0.55" filter="url(#bl2)"/>
<path d="M387.90,384.92 Q387.90,383.80 389.02,383.80 Q394.00,384.92 398.98,383.80 Q400.10,383.80 400.10,384.92 L400.10,385.48 Q400.10,386.60 398.98,386.60 Q394.00,385.93 389.02,386.60 Q387.90,386.60 387.90,385.48 Z" fill="rgb(104,104,104)" filter="url(#bl3)"/>
<path d="M403.90,376.85 Q403.90,375.25 405.50,375.25 Q410.70,377.05 415.90,375.25 Q417.50,375.25 417.50,376.85 L417.50,379.75 Q417.50,381.35 415.90,381.35 Q410.70,380.27 405.50,381.35 Q403.90,381.35 403.90,379.75 Z" fill="rgb(255,255,255)" opacity="0.55" filter="url(#bl2)"/>
<path d="M404.60,377.85 Q404.60,376.25 406.20,376.25 Q410.70,377.89 415.20,376.25 Q416.80,376.25 416.80,377.85 L416.80,378.75 Q416.80,380.35 415.20,380.35 Q410.70,379.37 406.20,380.35 Q404.60,380.35 404.60,378.75 Z" fill="rgb(255,255,255)" filter="url(#bl)"/>
<path d="M403.90,383.15 Q403.90,381.55 405.50,381.55 Q410.70,383.35 415.90,381.55 Q417.50,381.55 417.50,383.15 L417.50,387.35 Q417.50,388.95 415.90,388.95 Q410.70,387.87 405.50,388.95 Q403.90,388.95 403.90,387.35 Z" fill="rgb(255,255,255)" opacity="0.55" filter="url(#bl2)"/>
<path d="M404.60,384.15 Q404.60,382.55 406.20,382.55 Q410.70,384.35 415.20,382.55 Q416.80,382.55 416.80,384.15 L416.80,386.35 Q416.80,387.95 415.20,387.95 Q410.70,386.87 406.20,387.95 Q404.60,387.95 404.60,386.35 Z" fill="rgb(255,255,255)" filter="url(#bl)"/>
<path d="M420.80,383.35 Q420.80,381.75 422.40,381.75 Q427.60,383.55 432.80,381.75 Q434.40,381.75 434.40,383.35 L434.40,387.55 Q434.40,389.15 432.80,389.15 Q427.60,388.07 422.40,389.15 Q420.80,389.15 420.80,387.55 Z" fill="rgb(255,255,255)" opacity="0.55" filter="url(#bl2)"/>
<path d="M421.50,384.35 Q421.50,382.75 423.10,382.75 Q427.60,384.55 432.10,382.75 Q433.70,382.75 433.70,384.35 L433.70,386.55 Q433.70,388.15 432.10,388.15 Q427.60,387.07 423.10,388.15 Q421.50,388.15 421.50,386.55 Z" fill="rgb(255,255,255)" filter="url(#bl)"/>
<path d="M438.70,372.86 Q438.70,371.90 439.66,371.90 Q444.80,372.86 449.94,371.90 Q450.90,371.90 450.90,372.86 L450.90,373.34 Q450.90,374.30 449.94,374.30 Q444.80,373.72 439.66,374.30 Q438.70,374.30 438.70,373.34 Z" fill="rgb(71,71,71)" filter="url(#bl3)"/>
<path d="M438.00,383.35 Q438.00,381.75 439.60,381.75 Q444.80,383.55 450.00,381.75 Q451.60,381.75 451.60,383.35 L451.60,387.55 Q451.60,389.15 450.00,389.15 Q444.80,388.07 439.60,389.15 Q438.00,389.15 438.00,387.55 Z" fill="rgb(255,255,255)" opacity="0.55" filter="url(#bl2)"/>
<path d="M438.70,384.35 Q438.70,382.75 440.30,382.75 Q444.80,384.55 449.30,382.75 Q450.90,382.75 450.90,384.35 L450.90,386.55 Q450.90,388.15 449.30,388.15 Q444.80,387.07 440.30,388.15 Q438.70,388.15 438.70,386.55 Z" fill="rgb(255,255,255)" filter="url(#bl)"/>
<path d="M455.10,383.35 Q455.10,381.75 456.70,381.75 Q461.90,383.55 467.10,381.75 Q468.70,381.75 468.70,383.35 L468.70,387.55 Q468.70,389.15 467.10,389.15 Q461.90,388.07 456.70,389.15 Q455.10,389.15 455.10,387.55 Z" fill="rgb(255,255,255)" opacity="0.55" filter="url(#bl2)"/>
<path d="M455.80,384.35 Q455.80,382.75 457.40,382.75 Q461.90,384.55 466.40,382.75 Q468.00,382.75 468.00,384.35 L468.00,386.55 Q468.00,388.15 466.40,388.15 Q461.90,387.07 457.40,388.15 Q455.80,388.15 455.80,386.55 Z" fill="rgb(255,255,255)" filter="url(#bl)"/>
<rect x="321.70" y="300.6" width="8.20" height="3.6" rx="1" fill="rgb(195,195,195)" filter="url(#bl3)"/>
<rect x="338.70" y="300.6" width="8.20" height="3.6" rx="1" fill="rgb(195,195,195)" filter="url(#bl3)"/>
<rect x="355.70" y="300.6" width="8.20" height="3.6" rx="1" fill="rgb(195,195,195)" filter="url(#bl3)"/>
<text x="307.20" y="274.40" font-size="7.5" text-anchor="end" font-weight="normal" fill="#000" stroke="#000" stroke-width="0.2" >Myeloid</text>
<text x="309.00" y="309.30" font-size="7.3" text-anchor="end" font-weight="normal" fill="#000" stroke="#000" stroke-width="0.2" >B cells</text>
<text x="309.00" y="344.60" font-size="7.3" text-anchor="end" font-weight="normal" fill="#000" stroke="#000" stroke-width="0.2" >CD4+ T cells</text>
<text x="309.00" y="379.60" font-size="7.3" text-anchor="end" font-weight="normal" fill="#000" stroke="#000" stroke-width="0.2" >CD8+ T cells</text>
<polygon points="473.80,265.20 483.80,262.80 483.80,267.60" fill="#000"/>
<text x="485.00" y="267.30" font-size="6.2" text-anchor="start" font-weight="normal" fill="#000" stroke="#000" stroke-width="0.08" >Floxed (fl)</text>
<polygon points="473.80,271.80 483.80,269.40 483.80,274.20" fill="#000"/>
<text x="485.00" y="273.90" font-size="6.2" text-anchor="start" font-weight="normal" fill="#000" stroke="#000" stroke-width="0.08" >Wild-type (+)</text>
<polygon points="473.80,280.00 483.80,277.60 483.80,282.40" fill="#000"/>
<text x="485.00" y="282.10" font-size="6.2" text-anchor="start" font-weight="normal" fill="#000" stroke="#000" stroke-width="0.08" >Deleted (Δ)</text>
<line x1="286.40" y1="10.40" x2="286.40" y2="94.00" stroke="#111" stroke-width="1.0"/>
<line x1="284.20" y1="93.50" x2="369.10" y2="93.50" stroke="#111" stroke-width="1.0"/>
<line x1="283.80" y1="93.50" x2="286.40" y2="93.50" stroke="#111" stroke-width="1.0"/>
<text x="282.10" y="95.50" font-size="6.1" text-anchor="end" font-weight="normal" fill="#000" stroke="#000" stroke-width="0.22" >0</text>
<line x1="283.80" y1="70.50" x2="286.40" y2="70.50" stroke="#111" stroke-width="1.0"/>
<text x="282.10" y="72.50" font-size="6.1" text-anchor="end" font-weight="normal" fill="#000" stroke="#000" stroke-width="0.22" >5</text>
<line x1="283.80" y1="47.50" x2="286.40" y2="47.50" stroke="#111" stroke-width="1.0"/>
<text x="282.10" y="49.50" font-size="6.1" text-anchor="end" font-weight="normal" fill="#000" stroke="#000" stroke-width="0.22" >10</text>
<line x1="283.80" y1="24.50" x2="286.40" y2="24.50" stroke="#111" stroke-width="1.0"/>
<text x="282.10" y="26.50" font-size="6.1" text-anchor="end" font-weight="normal" fill="#000" stroke="#000" stroke-width="0.22" >15</text>
<line x1="285.00" y1="88.90" x2="286.40" y2="88.90" stroke="#111" stroke-width="0.9"/>
<line x1="285.00" y1="84.30" x2="286.40" y2="84.30" stroke="#111" stroke-width="0.9"/>
<line x1="285.00" y1="79.70" x2="286.40" y2="79.70" stroke="#111" stroke-width="0.9"/>
<line x1="285.00" y1="75.10" x2="286.40" y2="75.10" stroke="#111" stroke-width="0.9"/>
<line x1="285.00" y1="65.90" x2="286.40" y2="65.90" stroke="#111" stroke-width="0.9"/>
<line x1="285.00" y1="61.30" x2="286.40" y2="61.30" stroke="#111" stroke-width="0.9"/>
<line x1="285.00" y1="56.70" x2="286.40" y2="56.70" stroke="#111" stroke-width="0.9"/>
<line x1="285.00" y1="52.10" x2="286.40" y2="52.10" stroke="#111" stroke-width="0.9"/>
<line x1="285.00" y1="42.90" x2="286.40" y2="42.90" stroke="#111" stroke-width="0.9"/>
<line x1="285.00" y1="38.30" x2="286.40" y2="38.30" stroke="#111" stroke-width="0.9"/>
<line x1="285.00" y1="33.70" x2="286.40" y2="33.70" stroke="#111" stroke-width="0.9"/>
<line x1="285.00" y1="29.10" x2="286.40" y2="29.10" stroke="#111" stroke-width="0.9"/>
<line x1="285.00" y1="19.90" x2="286.40" y2="19.90" stroke="#111" stroke-width="0.9"/>
<line x1="285.00" y1="15.30" x2="286.40" y2="15.30" stroke="#111" stroke-width="0.9"/>
<line x1="285.00" y1="10.70" x2="286.40" y2="10.70" stroke="#111" stroke-width="0.9"/>
<line x1="286.40" y1="93.50" x2="286.40" y2="96.10" stroke="#111" stroke-width="1.0"/>
<text x="286.40" y="102.10" font-size="6.3" text-anchor="middle" font-weight="normal" fill="#000" stroke="#000" stroke-width="0.2" >0</text>
<line x1="306.95" y1="93.50" x2="306.95" y2="96.10" stroke="#111" stroke-width="1.0"/>
<text x="306.95" y="102.10" font-size="6.3" text-anchor="middle" font-weight="normal" fill="#000" stroke="#000" stroke-width="0.2" >100</text>
<line x1="327.50" y1="93.50" x2="327.50" y2="96.10" stroke="#111" stroke-width="1.0"/>
<text x="327.50" y="102.10" font-size="6.3" text-anchor="middle" font-weight="normal" fill="#000" stroke="#000" stroke-width="0.2" >200</text>
<line x1="348.05" y1="93.50" x2="348.05" y2="96.10" stroke="#111" stroke-width="1.0"/>
<text x="348.05" y="102.10" font-size="6.3" text-anchor="middle" font-weight="normal" fill="#000" stroke="#000" stroke-width="0.2" >300</text>
<line x1="368.60" y1="93.50" x2="368.60" y2="96.10" stroke="#111" stroke-width="1.0"/>
<text x="368.60" y="102.10" font-size="6.3" text-anchor="middle" font-weight="normal" fill="#000" stroke="#000" stroke-width="0.2" >400</text>
<line x1="290.51" y1="93.50" x2="290.51" y2="94.90" stroke="#111" stroke-width="0.9"/>
<line x1="294.62" y1="93.50" x2="294.62" y2="94.90" stroke="#111" stroke-width="0.9"/>
<line x1="298.73" y1="93.50" x2="298.73" y2="94.90" stroke="#111" stroke-width="0.9"/>
<line x1="302.84" y1="93.50" x2="302.84" y2="94.90" stroke="#111" stroke-width="0.9"/>
<line x1="311.06" y1="93.50" x2="311.06" y2="94.90" stroke="#111" stroke-width="0.9"/>
<line x1="315.17" y1="93.50" x2="315.17" y2="94.90" stroke="#111" stroke-width="0.9"/>
<line x1="319.28" y1="93.50" x2="319.28" y2="94.90" stroke="#111" stroke-width="0.9"/>
<line x1="323.39" y1="93.50" x2="323.39" y2="94.90" stroke="#111" stroke-width="0.9"/>
<line x1="331.61" y1="93.50" x2="331.61" y2="94.90" stroke="#111" stroke-width="0.9"/>
<line x1="335.72" y1="93.50" x2="335.72" y2="94.90" stroke="#111" stroke-width="0.9"/>
<line x1="339.83" y1="93.50" x2="339.83" y2="94.90" stroke="#111" stroke-width="0.9"/>
<line x1="343.94" y1="93.50" x2="343.94" y2="94.90" stroke="#111" stroke-width="0.9"/>
<line x1="352.16" y1="93.50" x2="352.16" y2="94.90" stroke="#111" stroke-width="0.9"/>
<line x1="356.27" y1="93.50" x2="356.27" y2="94.90" stroke="#111" stroke-width="0.9"/>
<line x1="360.38" y1="93.50" x2="360.38" y2="94.90" stroke="#111" stroke-width="0.9"/>
<line x1="364.49" y1="93.50" x2="364.49" y2="94.90" stroke="#111" stroke-width="0.9"/>
<text x="323.80" y="7.20" font-size="8.3" text-anchor="middle" font-weight="normal" fill="#000" stroke="#000" stroke-width="0.26" >Hemoglobin</text>
<text transform="translate(271.00,52.60) rotate(-90)" font-size="6.6" text-anchor="middle" fill="#000" stroke="#000" stroke-width="0.2">(g/dl)</text>
<polyline points="286.40,24.50 297.09,22.66 314.55,20.82 362.64,21.74" fill="none" stroke="#111" stroke-width="1.15"/>
<polyline points="286.40,24.50 297.09,19.67 314.55,23.58 362.64,24.50" fill="none" stroke="#111" stroke-width="1.15"/>
<line x1="286.40" y1="24.04" x2="286.40" y2="24.96" stroke="#111" stroke-width="1.0"/>
<line x1="284.70" y1="24.04" x2="288.10" y2="24.04" stroke="#111" stroke-width="1.0"/>
<line x1="284.70" y1="24.96" x2="288.10" y2="24.96" stroke="#111" stroke-width="1.0"/>
<line x1="297.09" y1="21.74" x2="297.09" y2="23.58" stroke="#111" stroke-width="1.0"/>
<line x1="295.39" y1="21.74" x2="298.79" y2="21.74" stroke="#111" stroke-width="1.0"/>
<line x1="295.39" y1="23.58" x2="298.79" y2="23.58" stroke="#111" stroke-width="1.0"/>
<line x1="314.55" y1="20.13" x2="314.55" y2="21.51" stroke="#111" stroke-width="1.0"/>
<line x1="312.85" y1="20.13" x2="316.25" y2="20.13" stroke="#111" stroke-width="1.0"/>
<line x1="312.85" y1="21.51" x2="316.25" y2="21.51" stroke="#111" stroke-width="1.0"/>
<line x1="362.64" y1="21.28" x2="362.64" y2="22.20" stroke="#111" stroke-width="1.0"/>
<line x1="360.94" y1="21.28" x2="364.34" y2="21.28" stroke="#111" stroke-width="1.0"/>
<line x1="360.94" y1="22.20" x2="364.34" y2="22.20" stroke="#111" stroke-width="1.0"/>
<line x1="286.40" y1="24.04" x2="286.40" y2="24.96" stroke="#111" stroke-width="1.0"/>
<line x1="284.70" y1="24.04" x2="288.10" y2="24.04" stroke="#111" stroke-width="1.0"/>
<line x1="284.70" y1="24.96" x2="288.10" y2="24.96" stroke="#111" stroke-width="1.0"/>
<line x1="297.09" y1="18.75" x2="297.09" y2="20.59" stroke="#111" stroke-width="1.0"/>
<line x1="295.39" y1="18.75" x2="298.79" y2="18.75" stroke="#111" stroke-width="1.0"/>
<line x1="295.39" y1="20.59" x2="298.79" y2="20.59" stroke="#111" stroke-width="1.0"/>
<line x1="314.55" y1="23.12" x2="314.55" y2="24.04" stroke="#111" stroke-width="1.0"/>
<line x1="312.85" y1="23.12" x2="316.25" y2="23.12" stroke="#111" stroke-width="1.0"/>
<line x1="312.85" y1="24.04" x2="316.25" y2="24.04" stroke="#111" stroke-width="1.0"/>
<line x1="362.64" y1="24.04" x2="362.64" y2="24.96" stroke="#111" stroke-width="1.0"/>
<line x1="360.94" y1="24.04" x2="364.34" y2="24.04" stroke="#111" stroke-width="1.0"/>
<line x1="360.94" y1="24.96" x2="364.34" y2="24.96" stroke="#111" stroke-width="1.0"/>
<rect x="284.60" y="22.70" width="3.6" height="3.6" rx="0.9" fill="#000"/>
<rect x="295.29" y="17.87" width="3.6" height="3.6" rx="0.9" fill="#000"/>
<rect x="312.75" y="21.78" width="3.6" height="3.6" rx="0.9" fill="#000"/>
<rect x="360.84" y="22.70" width="3.6" height="3.6" rx="0.9" fill="#000"/>
<polygon points="286.40,21.88 288.90,26.45 283.90,26.45" fill="#fff" stroke="#000" stroke-width="1.15" stroke-linejoin="round"/>
<polygon points="297.09,20.04 299.59,24.61 294.59,24.61" fill="#fff" stroke="#000" stroke-width="1.15" stroke-linejoin="round"/>
<polygon points="314.55,18.20 317.05,22.77 312.05,22.77" fill="#fff" stroke="#000" stroke-width="1.15" stroke-linejoin="round"/>
<polygon points="362.64,19.12 365.14,23.69 360.14,23.69" fill="#fff" stroke="#000" stroke-width="1.15" stroke-linejoin="round"/>
<text x="314.55" y="31.60" font-size="6.0" text-anchor="middle" font-weight="normal" fill="#000" stroke="#000" stroke-width="0.2" >*</text>
<line x1="398.00" y1="11.70" x2="398.00" y2="93.80" stroke="#111" stroke-width="1.0"/>
<line x1="395.80" y1="93.30" x2="480.70" y2="93.30" stroke="#111" stroke-width="1.0"/>
<line x1="395.40" y1="93.30" x2="398.00" y2="93.30" stroke="#111" stroke-width="1.0"/>
<text x="393.70" y="95.30" font-size="6.1" text-anchor="end" font-weight="normal" fill="#000" stroke="#000" stroke-width="0.22" >0</text>
<line x1="395.40" y1="66.20" x2="398.00" y2="66.20" stroke="#111" stroke-width="1.0"/>
<text x="393.70" y="68.20" font-size="6.1" text-anchor="end" font-weight="normal" fill="#000" stroke="#000" stroke-width="0.22" >500</text>
<line x1="395.40" y1="39.10" x2="398.00" y2="39.10" stroke="#111" stroke-width="1.0"/>
<text x="393.70" y="41.10" font-size="6.1" text-anchor="end" font-weight="normal" fill="#000" stroke="#000" stroke-width="0.22" >1000</text>
<line x1="395.40" y1="12.00" x2="398.00" y2="12.00" stroke="#111" stroke-width="1.0"/>
<text x="393.70" y="14.00" font-size="6.1" text-anchor="end" font-weight="normal" fill="#000" stroke="#000" stroke-width="0.22" >1500</text>
<line x1="396.60" y1="87.88" x2="398.00" y2="87.88" stroke="#111" stroke-width="0.9"/>
<line x1="396.60" y1="82.46" x2="398.00" y2="82.46" stroke="#111" stroke-width="0.9"/>
<line x1="396.60" y1="77.04" x2="398.00" y2="77.04" stroke="#111" stroke-width="0.9"/>
<line x1="396.60" y1="71.62" x2="398.00" y2="71.62" stroke="#111" stroke-width="0.9"/>
<line x1="396.60" y1="60.78" x2="398.00" y2="60.78" stroke="#111" stroke-width="0.9"/>
<line x1="396.60" y1="55.36" x2="398.00" y2="55.36" stroke="#111" stroke-width="0.9"/>
<line x1="396.60" y1="49.94" x2="398.00" y2="49.94" stroke="#111" stroke-width="0.9"/>
<line x1="396.60" y1="44.52" x2="398.00" y2="44.52" stroke="#111" stroke-width="0.9"/>
<line x1="396.60" y1="33.68" x2="398.00" y2="33.68" stroke="#111" stroke-width="0.9"/>
<line x1="396.60" y1="28.26" x2="398.00" y2="28.26" stroke="#111" stroke-width="0.9"/>
<line x1="396.60" y1="22.84" x2="398.00" y2="22.84" stroke="#111" stroke-width="0.9"/>
<line x1="396.60" y1="17.42" x2="398.00" y2="17.42" stroke="#111" stroke-width="0.9"/>
<line x1="398.00" y1="93.30" x2="398.00" y2="95.90" stroke="#111" stroke-width="1.0"/>
<text x="398.00" y="101.90" font-size="6.3" text-anchor="middle" font-weight="normal" fill="#000" stroke="#000" stroke-width="0.2" >0</text>
<line x1="418.55" y1="93.30" x2="418.55" y2="95.90" stroke="#111" stroke-width="1.0"/>
<text x="418.55" y="101.90" font-size="6.3" text-anchor="middle" font-weight="normal" fill="#000" stroke="#000" stroke-width="0.2" >100</text>
<line x1="439.10" y1="93.30" x2="439.10" y2="95.90" stroke="#111" stroke-width="1.0"/>
<text x="439.10" y="101.90" font-size="6.3" text-anchor="middle" font-weight="normal" fill="#000" stroke="#000" stroke-width="0.2" >200</text>
<line x1="459.65" y1="93.30" x2="459.65" y2="95.90" stroke="#111" stroke-width="1.0"/>
<text x="459.65" y="101.90" font-size="6.3" text-anchor="middle" font-weight="normal" fill="#000" stroke="#000" stroke-width="0.2" >300</text>
<line x1="480.20" y1="93.30" x2="480.20" y2="95.90" stroke="#111" stroke-width="1.0"/>
<text x="480.20" y="101.90" font-size="6.3" text-anchor="middle" font-weight="normal" fill="#000" stroke="#000" stroke-width="0.2" >400</text>
<line x1="402.11" y1="93.30" x2="402.11" y2="94.70" stroke="#111" stroke-width="0.9"/>
<line x1="406.22" y1="93.30" x2="406.22" y2="94.70" stroke="#111" stroke-width="0.9"/>
<line x1="410.33" y1="93.30" x2="410.33" y2="94.70" stroke="#111" stroke-width="0.9"/>
<line x1="414.44" y1="93.30" x2="414.44" y2="94.70" stroke="#111" stroke-width="0.9"/>
<line x1="422.66" y1="93.30" x2="422.66" y2="94.70" stroke="#111" stroke-width="0.9"/>
<line x1="426.77" y1="93.30" x2="426.77" y2="94.70" stroke="#111" stroke-width="0.9"/>
<line x1="430.88" y1="93.30" x2="430.88" y2="94.70" stroke="#111" stroke-width="0.9"/>
<line x1="434.99" y1="93.30" x2="434.99" y2="94.70" stroke="#111" stroke-width="0.9"/>
<line x1="443.21" y1="93.30" x2="443.21" y2="94.70" stroke="#111" stroke-width="0.9"/>
<line x1="447.32" y1="93.30" x2="447.32" y2="94.70" stroke="#111" stroke-width="0.9"/>
<line x1="451.43" y1="93.30" x2="451.43" y2="94.70" stroke="#111" stroke-width="0.9"/>
<line x1="455.54" y1="93.30" x2="455.54" y2="94.70" stroke="#111" stroke-width="0.9"/>
<line x1="463.76" y1="93.30" x2="463.76" y2="94.70" stroke="#111" stroke-width="0.9"/>
<line x1="467.87" y1="93.30" x2="467.87" y2="94.70" stroke="#111" stroke-width="0.9"/>
<line x1="471.98" y1="93.30" x2="471.98" y2="94.70" stroke="#111" stroke-width="0.9"/>
<line x1="476.09" y1="93.30" x2="476.09" y2="94.70" stroke="#111" stroke-width="0.9"/>
<text x="439.80" y="7.30" font-size="8.3" text-anchor="middle" font-weight="normal" fill="#000" stroke="#000" stroke-width="0.26" >Platelets</text>
<text transform="translate(378.60,52.60) rotate(-90)" font-size="6.6" text-anchor="middle" fill="#000" stroke="#000" stroke-width="0.2">(×10<tspan font-size="4.2" dy="-2.4">9</tspan><tspan dy="2.4">/l)</tspan></text>
<polyline points="398.00,25.39 408.69,30.16 426.15,26.63 474.24,36.12" fill="none" stroke="#111" stroke-width="1.15"/>
<polyline points="398.00,33.68 408.69,28.53 426.15,15.36 474.24,16.77" fill="none" stroke="#111" stroke-width="1.15"/>
<line x1="398.00" y1="21.05" x2="398.00" y2="29.72" stroke="#111" stroke-width="1.0"/>
<line x1="396.30" y1="21.05" x2="399.70" y2="21.05" stroke="#111" stroke-width="1.0"/>
<line x1="396.30" y1="29.72" x2="399.70" y2="29.72" stroke="#111" stroke-width="1.0"/>
<line x1="408.69" y1="23.65" x2="408.69" y2="36.66" stroke="#111" stroke-width="1.0"/>
<line x1="406.99" y1="23.65" x2="410.39" y2="23.65" stroke="#111" stroke-width="1.0"/>
<line x1="406.99" y1="36.66" x2="410.39" y2="36.66" stroke="#111" stroke-width="1.0"/>
<line x1="426.15" y1="23.11" x2="426.15" y2="30.16" stroke="#111" stroke-width="1.0"/>
<line x1="424.45" y1="23.11" x2="427.85" y2="23.11" stroke="#111" stroke-width="1.0"/>
<line x1="424.45" y1="30.16" x2="427.85" y2="30.16" stroke="#111" stroke-width="1.0"/>
<line x1="474.24" y1="32.87" x2="474.24" y2="39.37" stroke="#111" stroke-width="1.0"/>
<line x1="472.54" y1="32.87" x2="475.94" y2="32.87" stroke="#111" stroke-width="1.0"/>
<line x1="472.54" y1="39.37" x2="475.94" y2="39.37" stroke="#111" stroke-width="1.0"/>
<line x1="398.00" y1="29.34" x2="398.00" y2="38.02" stroke="#111" stroke-width="1.0"/>
<line x1="396.30" y1="29.34" x2="399.70" y2="29.34" stroke="#111" stroke-width="1.0"/>
<line x1="396.30" y1="38.02" x2="399.70" y2="38.02" stroke="#111" stroke-width="1.0"/>
<line x1="408.69" y1="22.03" x2="408.69" y2="35.04" stroke="#111" stroke-width="1.0"/>
<line x1="406.99" y1="22.03" x2="410.39" y2="22.03" stroke="#111" stroke-width="1.0"/>
<line x1="406.99" y1="35.04" x2="410.39" y2="35.04" stroke="#111" stroke-width="1.0"/>
<line x1="426.15" y1="14.28" x2="426.15" y2="16.44" stroke="#111" stroke-width="1.0"/>
<line x1="424.45" y1="14.28" x2="427.85" y2="14.28" stroke="#111" stroke-width="1.0"/>
<line x1="424.45" y1="16.44" x2="427.85" y2="16.44" stroke="#111" stroke-width="1.0"/>
<line x1="474.24" y1="12.16" x2="474.24" y2="21.38" stroke="#111" stroke-width="1.0"/>
<line x1="472.54" y1="12.16" x2="475.94" y2="12.16" stroke="#111" stroke-width="1.0"/>
<line x1="472.54" y1="21.38" x2="475.94" y2="21.38" stroke="#111" stroke-width="1.0"/>
<rect x="396.20" y="31.88" width="3.6" height="3.6" rx="0.9" fill="#000"/>
<rect x="406.89" y="26.73" width="3.6" height="3.6" rx="0.9" fill="#000"/>
<rect x="424.35" y="13.56" width="3.6" height="3.6" rx="0.9" fill="#000"/>
<rect x="472.44" y="14.97" width="3.6" height="3.6" rx="0.9" fill="#000"/>
<polygon points="398.00,22.76 400.50,27.34 395.50,27.34" fill="#fff" stroke="#000" stroke-width="1.15" stroke-linejoin="round"/>
<polygon points="408.69,27.53 411.19,32.11 406.19,32.11" fill="#fff" stroke="#000" stroke-width="1.15" stroke-linejoin="round"/>
<polygon points="426.15,24.01 428.65,28.58 423.65,28.58" fill="#fff" stroke="#000" stroke-width="1.15" stroke-linejoin="round"/>
<polygon points="474.24,33.49 476.74,38.07 471.74,38.07" fill="#fff" stroke="#000" stroke-width="1.15" stroke-linejoin="round"/>
<text x="474.24" y="45.40" font-size="6.0" text-anchor="middle" font-weight="normal" fill="#000" stroke="#000" stroke-width="0.2" >**</text>
<line x1="286.40" y1="121.70" x2="286.40" y2="204.90" stroke="#111" stroke-width="1.0"/>
<line x1="284.20" y1="204.40" x2="369.10" y2="204.40" stroke="#111" stroke-width="1.0"/>
<line x1="283.80" y1="204.40" x2="286.40" y2="204.40" stroke="#111" stroke-width="1.0"/>
<text x="282.10" y="206.40" font-size="6.1" text-anchor="end" font-weight="normal" fill="#000" stroke="#000" stroke-width="0.22" >0.0</text>
<line x1="283.80" y1="183.80" x2="286.40" y2="183.80" stroke="#111" stroke-width="1.0"/>
<text x="282.10" y="185.80" font-size="6.1" text-anchor="end" font-weight="normal" fill="#000" stroke="#000" stroke-width="0.22" >0.5</text>
<line x1="283.80" y1="163.20" x2="286.40" y2="163.20" stroke="#111" stroke-width="1.0"/>
<text x="282.10" y="165.20" font-size="6.1" text-anchor="end" font-weight="normal" fill="#000" stroke="#000" stroke-width="0.22" >1.0</text>
<line x1="283.80" y1="142.60" x2="286.40" y2="142.60" stroke="#111" stroke-width="1.0"/>
<text x="282.10" y="144.60" font-size="6.1" text-anchor="end" font-weight="normal" fill="#000" stroke="#000" stroke-width="0.22" >1.5</text>
<line x1="283.80" y1="122.00" x2="286.40" y2="122.00" stroke="#111" stroke-width="1.0"/>
<text x="282.10" y="124.00" font-size="6.1" text-anchor="end" font-weight="normal" fill="#000" stroke="#000" stroke-width="0.22" >2.0</text>
<line x1="285.00" y1="200.28" x2="286.40" y2="200.28" stroke="#111" stroke-width="0.9"/>
<line x1="285.00" y1="196.16" x2="286.40" y2="196.16" stroke="#111" stroke-width="0.9"/>
<line x1="285.00" y1="192.04" x2="286.40" y2="192.04" stroke="#111" stroke-width="0.9"/>
<line x1="285.00" y1="187.92" x2="286.40" y2="187.92" stroke="#111" stroke-width="0.9"/>
<line x1="285.00" y1="179.68" x2="286.40" y2="179.68" stroke="#111" stroke-width="0.9"/>
<line x1="285.00" y1="175.56" x2="286.40" y2="175.56" stroke="#111" stroke-width="0.9"/>
<line x1="285.00" y1="171.44" x2="286.40" y2="171.44" stroke="#111" stroke-width="0.9"/>
<line x1="285.00" y1="167.32" x2="286.40" y2="167.32" stroke="#111" stroke-width="0.9"/>
<line x1="285.00" y1="159.08" x2="286.40" y2="159.08" stroke="#111" stroke-width="0.9"/>
<line x1="285.00" y1="154.96" x2="286.40" y2="154.96" stroke="#111" stroke-width="0.9"/>
<line x1="285.00" y1="150.84" x2="286.40" y2="150.84" stroke="#111" stroke-width="0.9"/>
<line x1="285.00" y1="146.72" x2="286.40" y2="146.72" stroke="#111" stroke-width="0.9"/>
<line x1="285.00" y1="138.48" x2="286.40" y2="138.48" stroke="#111" stroke-width="0.9"/>
<line x1="285.00" y1="134.36" x2="286.40" y2="134.36" stroke="#111" stroke-width="0.9"/>
<line x1="285.00" y1="130.24" x2="286.40" y2="130.24" stroke="#111" stroke-width="0.9"/>
<line x1="285.00" y1="126.12" x2="286.40" y2="126.12" stroke="#111" stroke-width="0.9"/>
<line x1="286.40" y1="204.40" x2="286.40" y2="207.00" stroke="#111" stroke-width="1.0"/>
<text x="286.40" y="213.00" font-size="6.3" text-anchor="middle" font-weight="normal" fill="#000" stroke="#000" stroke-width="0.2" >0</text>
<line x1="306.95" y1="204.40" x2="306.95" y2="207.00" stroke="#111" stroke-width="1.0"/>
<text x="306.95" y="213.00" font-size="6.3" text-anchor="middle" font-weight="normal" fill="#000" stroke="#000" stroke-width="0.2" >100</text>
<line x1="327.50" y1="204.40" x2="327.50" y2="207.00" stroke="#111" stroke-width="1.0"/>
<text x="327.50" y="213.00" font-size="6.3" text-anchor="middle" font-weight="normal" fill="#000" stroke="#000" stroke-width="0.2" >200</text>
<line x1="348.05" y1="204.40" x2="348.05" y2="207.00" stroke="#111" stroke-width="1.0"/>
<text x="348.05" y="213.00" font-size="6.3" text-anchor="middle" font-weight="normal" fill="#000" stroke="#000" stroke-width="0.2" >300</text>
<line x1="368.60" y1="204.40" x2="368.60" y2="207.00" stroke="#111" stroke-width="1.0"/>
<text x="368.60" y="213.00" font-size="6.3" text-anchor="middle" font-weight="normal" fill="#000" stroke="#000" stroke-width="0.2" >400</text>
<line x1="290.51" y1="204.40" x2="290.51" y2="205.80" stroke="#111" stroke-width="0.9"/>
<line x1="294.62" y1="204.40" x2="294.62" y2="205.80" stroke="#111" stroke-width="0.9"/>
<line x1="298.73" y1="204.40" x2="298.73" y2="205.80" stroke="#111" stroke-width="0.9"/>
<line x1="302.84" y1="204.40" x2="302.84" y2="205.80" stroke="#111" stroke-width="0.9"/>
<line x1="311.06" y1="204.40" x2="311.06" y2="205.80" stroke="#111" stroke-width="0.9"/>
<line x1="315.17" y1="204.40" x2="315.17" y2="205.80" stroke="#111" stroke-width="0.9"/>
<line x1="319.28" y1="204.40" x2="319.28" y2="205.80" stroke="#111" stroke-width="0.9"/>
<line x1="323.39" y1="204.40" x2="323.39" y2="205.80" stroke="#111" stroke-width="0.9"/>
<line x1="331.61" y1="204.40" x2="331.61" y2="205.80" stroke="#111" stroke-width="0.9"/>
<line x1="335.72" y1="204.40" x2="335.72" y2="205.80" stroke="#111" stroke-width="0.9"/>
<line x1="339.83" y1="204.40" x2="339.83" y2="205.80" stroke="#111" stroke-width="0.9"/>
<line x1="343.94" y1="204.40" x2="343.94" y2="205.80" stroke="#111" stroke-width="0.9"/>
<line x1="352.16" y1="204.40" x2="352.16" y2="205.80" stroke="#111" stroke-width="0.9"/>
<line x1="356.27" y1="204.40" x2="356.27" y2="205.80" stroke="#111" stroke-width="0.9"/>
<line x1="360.38" y1="204.40" x2="360.38" y2="205.80" stroke="#111" stroke-width="0.9"/>
<line x1="364.49" y1="204.40" x2="364.49" y2="205.80" stroke="#111" stroke-width="0.9"/>
<text x="325.60" y="118.00" font-size="8.3" text-anchor="middle" font-weight="normal" fill="#000" stroke="#000" stroke-width="0.26" >Neutrophils</text>
<text transform="translate(271.20,163.20) rotate(-90)" font-size="6.6" text-anchor="middle" fill="#000" stroke="#000" stroke-width="0.2">(×10<tspan font-size="4.2" dy="-2.4">9</tspan><tspan dy="2.4">/l)</tspan></text>
<polyline points="286.40,152.90 297.09,157.84 314.55,152.90 362.64,143.01" fill="none" stroke="#111" stroke-width="1.15"/>
<polyline points="286.40,154.14 297.09,157.84 314.55,158.67 362.64,143.01" fill="none" stroke="#111" stroke-width="1.15"/>
<line x1="286.40" y1="148.78" x2="286.40" y2="157.02" stroke="#111" stroke-width="1.0"/>
<line x1="284.70" y1="148.78" x2="288.10" y2="148.78" stroke="#111" stroke-width="1.0"/>
<line x1="284.70" y1="157.02" x2="288.10" y2="157.02" stroke="#111" stroke-width="1.0"/>
<line x1="297.09" y1="155.78" x2="297.09" y2="159.90" stroke="#111" stroke-width="1.0"/>
<line x1="295.39" y1="155.78" x2="298.79" y2="155.78" stroke="#111" stroke-width="1.0"/>
<line x1="295.39" y1="159.90" x2="298.79" y2="159.90" stroke="#111" stroke-width="1.0"/>
<line x1="314.55" y1="146.72" x2="314.55" y2="159.08" stroke="#111" stroke-width="1.0"/>
<line x1="312.85" y1="146.72" x2="316.25" y2="146.72" stroke="#111" stroke-width="1.0"/>
<line x1="312.85" y1="159.08" x2="316.25" y2="159.08" stroke="#111" stroke-width="1.0"/>
<line x1="362.64" y1="127.77" x2="362.64" y2="158.26" stroke="#111" stroke-width="1.0"/>
<line x1="360.94" y1="127.77" x2="364.34" y2="127.77" stroke="#111" stroke-width="1.0"/>
<line x1="360.94" y1="158.26" x2="364.34" y2="158.26" stroke="#111" stroke-width="1.0"/>
<line x1="286.40" y1="149.19" x2="286.40" y2="159.08" stroke="#111" stroke-width="1.0"/>
<line x1="284.70" y1="149.19" x2="288.10" y2="149.19" stroke="#111" stroke-width="1.0"/>
<line x1="284.70" y1="159.08" x2="288.10" y2="159.08" stroke="#111" stroke-width="1.0"/>
<line x1="297.09" y1="148.78" x2="297.09" y2="166.91" stroke="#111" stroke-width="1.0"/>
<line x1="295.39" y1="148.78" x2="298.79" y2="148.78" stroke="#111" stroke-width="1.0"/>
<line x1="295.39" y1="166.91" x2="298.79" y2="166.91" stroke="#111" stroke-width="1.0"/>
<line x1="314.55" y1="156.61" x2="314.55" y2="160.73" stroke="#111" stroke-width="1.0"/>
<line x1="312.85" y1="156.61" x2="316.25" y2="156.61" stroke="#111" stroke-width="1.0"/>
<line x1="312.85" y1="160.73" x2="316.25" y2="160.73" stroke="#111" stroke-width="1.0"/>
<line x1="362.64" y1="134.77" x2="362.64" y2="151.25" stroke="#111" stroke-width="1.0"/>
<line x1="360.94" y1="134.77" x2="364.34" y2="134.77" stroke="#111" stroke-width="1.0"/>
<line x1="360.94" y1="151.25" x2="364.34" y2="151.25" stroke="#111" stroke-width="1.0"/>
<rect x="284.60" y="152.34" width="3.6" height="3.6" rx="0.9" fill="#000"/>
<rect x="295.29" y="156.04" width="3.6" height="3.6" rx="0.9" fill="#000"/>
<rect x="312.75" y="156.87" width="3.6" height="3.6" rx="0.9" fill="#000"/>
<rect x="360.84" y="141.21" width="3.6" height="3.6" rx="0.9" fill="#000"/>
<polygon points="286.40,150.28 288.90,154.85 283.90,154.85" fill="#fff" stroke="#000" stroke-width="1.15" stroke-linejoin="round"/>
<polygon points="297.09,155.22 299.59,159.79 294.59,159.79" fill="#fff" stroke="#000" stroke-width="1.15" stroke-linejoin="round"/>
<polygon points="314.55,150.28 317.05,154.85 312.05,154.85" fill="#fff" stroke="#000" stroke-width="1.15" stroke-linejoin="round"/>
<polygon points="362.64,140.39 365.14,144.96 360.14,144.96" fill="#fff" stroke="#000" stroke-width="1.15" stroke-linejoin="round"/>
<line x1="398.40" y1="121.34" x2="398.40" y2="204.10" stroke="#111" stroke-width="1.0"/>
<line x1="396.20" y1="203.60" x2="481.10" y2="203.60" stroke="#111" stroke-width="1.0"/>
<line x1="395.80" y1="203.60" x2="398.40" y2="203.60" stroke="#111" stroke-width="1.0"/>
<text x="394.10" y="205.60" font-size="6.1" text-anchor="end" font-weight="normal" fill="#000" stroke="#000" stroke-width="0.22" >0</text>
<line x1="395.80" y1="169.45" x2="398.40" y2="169.45" stroke="#111" stroke-width="1.0"/>
<text x="394.10" y="171.45" font-size="6.1" text-anchor="end" font-weight="normal" fill="#000" stroke="#000" stroke-width="0.22" >5</text>
<line x1="395.80" y1="135.30" x2="398.40" y2="135.30" stroke="#111" stroke-width="1.0"/>
<text x="394.10" y="137.30" font-size="6.1" text-anchor="end" font-weight="normal" fill="#000" stroke="#000" stroke-width="0.22" >10</text>
<line x1="397.00" y1="196.77" x2="398.40" y2="196.77" stroke="#111" stroke-width="0.9"/>
<line x1="397.00" y1="189.94" x2="398.40" y2="189.94" stroke="#111" stroke-width="0.9"/>
<line x1="397.00" y1="183.11" x2="398.40" y2="183.11" stroke="#111" stroke-width="0.9"/>
<line x1="397.00" y1="176.28" x2="398.40" y2="176.28" stroke="#111" stroke-width="0.9"/>
<line x1="397.00" y1="162.62" x2="398.40" y2="162.62" stroke="#111" stroke-width="0.9"/>
<line x1="397.00" y1="155.79" x2="398.40" y2="155.79" stroke="#111" stroke-width="0.9"/>
<line x1="397.00" y1="148.96" x2="398.40" y2="148.96" stroke="#111" stroke-width="0.9"/>
<line x1="397.00" y1="142.13" x2="398.40" y2="142.13" stroke="#111" stroke-width="0.9"/>
<line x1="397.00" y1="128.47" x2="398.40" y2="128.47" stroke="#111" stroke-width="0.9"/>
<line x1="397.00" y1="121.64" x2="398.40" y2="121.64" stroke="#111" stroke-width="0.9"/>
<line x1="398.40" y1="203.60" x2="398.40" y2="206.20" stroke="#111" stroke-width="1.0"/>
<text x="398.40" y="212.20" font-size="6.3" text-anchor="middle" font-weight="normal" fill="#000" stroke="#000" stroke-width="0.2" >0</text>
<line x1="418.95" y1="203.60" x2="418.95" y2="206.20" stroke="#111" stroke-width="1.0"/>
<text x="418.95" y="212.20" font-size="6.3" text-anchor="middle" font-weight="normal" fill="#000" stroke="#000" stroke-width="0.2" >100</text>
<line x1="439.50" y1="203.60" x2="439.50" y2="206.20" stroke="#111" stroke-width="1.0"/>
<text x="439.50" y="212.20" font-size="6.3" text-anchor="middle" font-weight="normal" fill="#000" stroke="#000" stroke-width="0.2" >200</text>
<line x1="460.05" y1="203.60" x2="460.05" y2="206.20" stroke="#111" stroke-width="1.0"/>
<text x="460.05" y="212.20" font-size="6.3" text-anchor="middle" font-weight="normal" fill="#000" stroke="#000" stroke-width="0.2" >300</text>
<line x1="480.60" y1="203.60" x2="480.60" y2="206.20" stroke="#111" stroke-width="1.0"/>
<text x="480.60" y="212.20" font-size="6.3" text-anchor="middle" font-weight="normal" fill="#000" stroke="#000" stroke-width="0.2" >400</text>
<line x1="402.51" y1="203.60" x2="402.51" y2="205.00" stroke="#111" stroke-width="0.9"/>
<line x1="406.62" y1="203.60" x2="406.62" y2="205.00" stroke="#111" stroke-width="0.9"/>
<line x1="410.73" y1="203.60" x2="410.73" y2="205.00" stroke="#111" stroke-width="0.9"/>
<line x1="414.84" y1="203.60" x2="414.84" y2="205.00" stroke="#111" stroke-width="0.9"/>
<line x1="423.06" y1="203.60" x2="423.06" y2="205.00" stroke="#111" stroke-width="0.9"/>
<line x1="427.17" y1="203.60" x2="427.17" y2="205.00" stroke="#111" stroke-width="0.9"/>
<line x1="431.28" y1="203.60" x2="431.28" y2="205.00" stroke="#111" stroke-width="0.9"/>
<line x1="435.39" y1="203.60" x2="435.39" y2="205.00" stroke="#111" stroke-width="0.9"/>
<line x1="443.61" y1="203.60" x2="443.61" y2="205.00" stroke="#111" stroke-width="0.9"/>
<line x1="447.72" y1="203.60" x2="447.72" y2="205.00" stroke="#111" stroke-width="0.9"/>
<line x1="451.83" y1="203.60" x2="451.83" y2="205.00" stroke="#111" stroke-width="0.9"/>
<line x1="455.94" y1="203.60" x2="455.94" y2="205.00" stroke="#111" stroke-width="0.9"/>
<line x1="464.16" y1="203.60" x2="464.16" y2="205.00" stroke="#111" stroke-width="0.9"/>
<line x1="468.27" y1="203.60" x2="468.27" y2="205.00" stroke="#111" stroke-width="0.9"/>
<line x1="472.38" y1="203.60" x2="472.38" y2="205.00" stroke="#111" stroke-width="0.9"/>
<line x1="476.49" y1="203.60" x2="476.49" y2="205.00" stroke="#111" stroke-width="0.9"/>
<text x="438.80" y="118.10" font-size="8.3" text-anchor="middle" font-weight="normal" fill="#000" stroke="#000" stroke-width="0.26" >Lymphocytes</text>
<text transform="translate(386.00,163.00) rotate(-90)" font-size="6.6" text-anchor="middle" fill="#000" stroke="#000" stroke-width="0.2">(×10<tspan font-size="4.2" dy="-2.4">9</tspan><tspan dy="2.4">/l)</tspan></text>
<polyline points="398.40,142.81 409.09,162.21 426.55,170.82 474.64,179.83" fill="none" stroke="#111" stroke-width="1.15"/>
<polyline points="398.40,155.52 409.09,144.52 426.55,152.72 474.64,137.01" fill="none" stroke="#111" stroke-width="1.15"/>
<line x1="398.40" y1="138.71" x2="398.40" y2="146.91" stroke="#111" stroke-width="1.0"/>
<line x1="396.70" y1="138.71" x2="400.10" y2="138.71" stroke="#111" stroke-width="1.0"/>
<line x1="396.70" y1="146.91" x2="400.10" y2="146.91" stroke="#111" stroke-width="1.0"/>
<line x1="409.09" y1="158.80" x2="409.09" y2="165.63" stroke="#111" stroke-width="1.0"/>
<line x1="407.39" y1="158.80" x2="410.79" y2="158.80" stroke="#111" stroke-width="1.0"/>
<line x1="407.39" y1="165.63" x2="410.79" y2="165.63" stroke="#111" stroke-width="1.0"/>
<line x1="426.55" y1="170.13" x2="426.55" y2="171.50" stroke="#111" stroke-width="1.0"/>
<line x1="424.85" y1="170.13" x2="428.25" y2="170.13" stroke="#111" stroke-width="1.0"/>
<line x1="424.85" y1="171.50" x2="428.25" y2="171.50" stroke="#111" stroke-width="1.0"/>
<line x1="474.64" y1="174.91" x2="474.64" y2="184.75" stroke="#111" stroke-width="1.0"/>
<line x1="472.94" y1="174.91" x2="476.34" y2="174.91" stroke="#111" stroke-width="1.0"/>
<line x1="472.94" y1="184.75" x2="476.34" y2="184.75" stroke="#111" stroke-width="1.0"/>
<line x1="398.40" y1="151.42" x2="398.40" y2="159.61" stroke="#111" stroke-width="1.0"/>
<line x1="396.70" y1="151.42" x2="400.10" y2="151.42" stroke="#111" stroke-width="1.0"/>
<line x1="396.70" y1="159.61" x2="400.10" y2="159.61" stroke="#111" stroke-width="1.0"/>
<line x1="409.09" y1="130.18" x2="409.09" y2="158.86" stroke="#111" stroke-width="1.0"/>
<line x1="407.39" y1="130.18" x2="410.79" y2="130.18" stroke="#111" stroke-width="1.0"/>
<line x1="407.39" y1="158.86" x2="410.79" y2="158.86" stroke="#111" stroke-width="1.0"/>
<line x1="426.55" y1="149.30" x2="426.55" y2="156.13" stroke="#111" stroke-width="1.0"/>
<line x1="424.85" y1="149.30" x2="428.25" y2="149.30" stroke="#111" stroke-width="1.0"/>
<line x1="424.85" y1="156.13" x2="428.25" y2="156.13" stroke="#111" stroke-width="1.0"/>
<line x1="474.64" y1="128.47" x2="474.64" y2="145.54" stroke="#111" stroke-width="1.0"/>
<line x1="472.94" y1="128.47" x2="476.34" y2="128.47" stroke="#111" stroke-width="1.0"/>
<line x1="472.94" y1="145.54" x2="476.34" y2="145.54" stroke="#111" stroke-width="1.0"/>
<rect x="396.60" y="153.72" width="3.6" height="3.6" rx="0.9" fill="#000"/>
<rect x="407.29" y="142.72" width="3.6" height="3.6" rx="0.9" fill="#000"/>
<rect x="424.75" y="150.92" width="3.6" height="3.6" rx="0.9" fill="#000"/>
<rect x="472.84" y="135.21" width="3.6" height="3.6" rx="0.9" fill="#000"/>
<polygon points="398.40,140.19 400.90,144.76 395.90,144.76" fill="#fff" stroke="#000" stroke-width="1.15" stroke-linejoin="round"/>
<polygon points="409.09,159.59 411.59,164.16 406.59,164.16" fill="#fff" stroke="#000" stroke-width="1.15" stroke-linejoin="round"/>
<polygon points="426.55,168.19 429.05,172.77 424.05,172.77" fill="#fff" stroke="#000" stroke-width="1.15" stroke-linejoin="round"/>
<polygon points="474.64,177.21 477.14,181.78 472.14,181.78" fill="#fff" stroke="#000" stroke-width="1.15" stroke-linejoin="round"/>
<text x="426.55" y="178.60" font-size="6.0" text-anchor="middle" font-weight="normal" fill="#000" stroke="#000" stroke-width="0.2" >**</text>
<text x="474.64" y="190.40" font-size="6.0" text-anchor="middle" font-weight="normal" fill="#000" stroke="#000" stroke-width="0.2" >**</text>
<line x1="23.50" y1="188.90" x2="23.50" y2="271.50" stroke="#111" stroke-width="1.0"/>
<line x1="21.30" y1="271.00" x2="106.20" y2="271.00" stroke="#111" stroke-width="1.0"/>
<line x1="20.90" y1="271.00" x2="23.50" y2="271.00" stroke="#111" stroke-width="1.0"/>
<text x="19.20" y="273.00" font-size="6.1" text-anchor="end" font-weight="normal" fill="#000" stroke="#000" stroke-width="0.22" >0</text>
<line x1="20.90" y1="250.55" x2="23.50" y2="250.55" stroke="#111" stroke-width="1.0"/>
<text x="19.20" y="252.55" font-size="6.1" text-anchor="end" font-weight="normal" fill="#000" stroke="#000" stroke-width="0.22" >1</text>
<line x1="20.90" y1="230.10" x2="23.50" y2="230.10" stroke="#111" stroke-width="1.0"/>
<text x="19.20" y="232.10" font-size="6.1" text-anchor="end" font-weight="normal" fill="#000" stroke="#000" stroke-width="0.22" >2</text>
<line x1="20.90" y1="209.65" x2="23.50" y2="209.65" stroke="#111" stroke-width="1.0"/>
<text x="19.20" y="211.65" font-size="6.1" text-anchor="end" font-weight="normal" fill="#000" stroke="#000" stroke-width="0.22" >3</text>
<line x1="20.90" y1="189.20" x2="23.50" y2="189.20" stroke="#111" stroke-width="1.0"/>
<text x="19.20" y="191.20" font-size="6.1" text-anchor="end" font-weight="normal" fill="#000" stroke="#000" stroke-width="0.22" >4</text>
<line x1="22.10" y1="266.91" x2="23.50" y2="266.91" stroke="#111" stroke-width="0.9"/>
<line x1="22.10" y1="262.82" x2="23.50" y2="262.82" stroke="#111" stroke-width="0.9"/>
<line x1="22.10" y1="258.73" x2="23.50" y2="258.73" stroke="#111" stroke-width="0.9"/>
<line x1="22.10" y1="254.64" x2="23.50" y2="254.64" stroke="#111" stroke-width="0.9"/>
<line x1="22.10" y1="246.46" x2="23.50" y2="246.46" stroke="#111" stroke-width="0.9"/>
<line x1="22.10" y1="242.37" x2="23.50" y2="242.37" stroke="#111" stroke-width="0.9"/>
<line x1="22.10" y1="238.28" x2="23.50" y2="238.28" stroke="#111" stroke-width="0.9"/>
<line x1="22.10" y1="234.19" x2="23.50" y2="234.19" stroke="#111" stroke-width="0.9"/>
<line x1="22.10" y1="226.01" x2="23.50" y2="226.01" stroke="#111" stroke-width="0.9"/>
<line x1="22.10" y1="221.92" x2="23.50" y2="221.92" stroke="#111" stroke-width="0.9"/>
<line x1="22.10" y1="217.83" x2="23.50" y2="217.83" stroke="#111" stroke-width="0.9"/>
<line x1="22.10" y1="213.74" x2="23.50" y2="213.74" stroke="#111" stroke-width="0.9"/>
<line x1="22.10" y1="205.56" x2="23.50" y2="205.56" stroke="#111" stroke-width="0.9"/>
<line x1="22.10" y1="201.47" x2="23.50" y2="201.47" stroke="#111" stroke-width="0.9"/>
<line x1="22.10" y1="197.38" x2="23.50" y2="197.38" stroke="#111" stroke-width="0.9"/>
<line x1="22.10" y1="193.29" x2="23.50" y2="193.29" stroke="#111" stroke-width="0.9"/>
<line x1="23.50" y1="271.00" x2="23.50" y2="273.60" stroke="#111" stroke-width="1.0"/>
<text x="23.50" y="279.60" font-size="6.3" text-anchor="middle" font-weight="normal" fill="#000" stroke="#000" stroke-width="0.2" >0</text>
<line x1="44.05" y1="271.00" x2="44.05" y2="273.60" stroke="#111" stroke-width="1.0"/>
<text x="44.05" y="279.60" font-size="6.3" text-anchor="middle" font-weight="normal" fill="#000" stroke="#000" stroke-width="0.2" >100</text>
<line x1="64.60" y1="271.00" x2="64.60" y2="273.60" stroke="#111" stroke-width="1.0"/>
<text x="64.60" y="279.60" font-size="6.3" text-anchor="middle" font-weight="normal" fill="#000" stroke="#000" stroke-width="0.2" >200</text>
<line x1="85.15" y1="271.00" x2="85.15" y2="273.60" stroke="#111" stroke-width="1.0"/>
<text x="85.15" y="279.60" font-size="6.3" text-anchor="middle" font-weight="normal" fill="#000" stroke="#000" stroke-width="0.2" >300</text>
<line x1="105.70" y1="271.00" x2="105.70" y2="273.60" stroke="#111" stroke-width="1.0"/>
<text x="105.70" y="279.60" font-size="6.3" text-anchor="middle" font-weight="normal" fill="#000" stroke="#000" stroke-width="0.2" >400</text>
<line x1="27.61" y1="271.00" x2="27.61" y2="272.40" stroke="#111" stroke-width="0.9"/>
<line x1="31.72" y1="271.00" x2="31.72" y2="272.40" stroke="#111" stroke-width="0.9"/>
<line x1="35.83" y1="271.00" x2="35.83" y2="272.40" stroke="#111" stroke-width="0.9"/>
<line x1="39.94" y1="271.00" x2="39.94" y2="272.40" stroke="#111" stroke-width="0.9"/>
<line x1="48.16" y1="271.00" x2="48.16" y2="272.40" stroke="#111" stroke-width="0.9"/>
<line x1="52.27" y1="271.00" x2="52.27" y2="272.40" stroke="#111" stroke-width="0.9"/>
<line x1="56.38" y1="271.00" x2="56.38" y2="272.40" stroke="#111" stroke-width="0.9"/>
<line x1="60.49" y1="271.00" x2="60.49" y2="272.40" stroke="#111" stroke-width="0.9"/>
<line x1="68.71" y1="271.00" x2="68.71" y2="272.40" stroke="#111" stroke-width="0.9"/>
<line x1="72.82" y1="271.00" x2="72.82" y2="272.40" stroke="#111" stroke-width="0.9"/>
<line x1="76.93" y1="271.00" x2="76.93" y2="272.40" stroke="#111" stroke-width="0.9"/>
<line x1="81.04" y1="271.00" x2="81.04" y2="272.40" stroke="#111" stroke-width="0.9"/>
<line x1="89.26" y1="271.00" x2="89.26" y2="272.40" stroke="#111" stroke-width="0.9"/>
<line x1="93.37" y1="271.00" x2="93.37" y2="272.40" stroke="#111" stroke-width="0.9"/>
<line x1="97.48" y1="271.00" x2="97.48" y2="272.40" stroke="#111" stroke-width="0.9"/>
<line x1="101.59" y1="271.00" x2="101.59" y2="272.40" stroke="#111" stroke-width="0.9"/>
<text x="66.20" y="184.90" font-size="8.3" text-anchor="middle" font-weight="normal" fill="#000" stroke="#000" stroke-width="0.14" >Myeloid (Mac1<tspan font-size="5" dy="-2.8">+</tspan><tspan dy="2.8">)</tspan></text>
<text transform="translate(12.30,229.80) rotate(-90)" font-size="6.6" text-anchor="middle" fill="#000" stroke="#000" stroke-width="0.2">(×10<tspan font-size="4.2" dy="-2.4">9</tspan><tspan dy="2.4">/l)</tspan></text>
<polyline points="23.50,222.94 34.19,229.69 51.65,231.12 99.74,223.35" fill="none" stroke="#111" stroke-width="1.15"/>
<polyline points="23.50,227.44 34.19,229.08 51.65,230.71 99.74,208.63" fill="none" stroke="#111" stroke-width="1.15"/>
<line x1="23.50" y1="218.85" x2="23.50" y2="227.03" stroke="#111" stroke-width="1.0"/>
<line x1="21.80" y1="218.85" x2="25.20" y2="218.85" stroke="#111" stroke-width="1.0"/>
<line x1="21.80" y1="227.03" x2="25.20" y2="227.03" stroke="#111" stroke-width="1.0"/>
<line x1="34.19" y1="220.90" x2="34.19" y2="238.48" stroke="#111" stroke-width="1.0"/>
<line x1="32.49" y1="220.90" x2="35.89" y2="220.90" stroke="#111" stroke-width="1.0"/>
<line x1="32.49" y1="238.48" x2="35.89" y2="238.48" stroke="#111" stroke-width="1.0"/>
<line x1="51.65" y1="227.44" x2="51.65" y2="234.80" stroke="#111" stroke-width="1.0"/>
<line x1="49.95" y1="227.44" x2="53.35" y2="227.44" stroke="#111" stroke-width="1.0"/>
<line x1="49.95" y1="234.80" x2="53.35" y2="234.80" stroke="#111" stroke-width="1.0"/>
<line x1="99.74" y1="216.81" x2="99.74" y2="229.90" stroke="#111" stroke-width="1.0"/>
<line x1="98.04" y1="216.81" x2="101.44" y2="216.81" stroke="#111" stroke-width="1.0"/>
<line x1="98.04" y1="229.90" x2="101.44" y2="229.90" stroke="#111" stroke-width="1.0"/>
<line x1="23.50" y1="224.37" x2="23.50" y2="230.51" stroke="#111" stroke-width="1.0"/>
<line x1="21.80" y1="224.37" x2="25.20" y2="224.37" stroke="#111" stroke-width="1.0"/>
<line x1="21.80" y1="230.51" x2="25.20" y2="230.51" stroke="#111" stroke-width="1.0"/>
<line x1="34.19" y1="227.03" x2="34.19" y2="231.12" stroke="#111" stroke-width="1.0"/>
<line x1="32.49" y1="227.03" x2="35.89" y2="227.03" stroke="#111" stroke-width="1.0"/>
<line x1="32.49" y1="231.12" x2="35.89" y2="231.12" stroke="#111" stroke-width="1.0"/>
<line x1="51.65" y1="229.69" x2="51.65" y2="231.74" stroke="#111" stroke-width="1.0"/>
<line x1="49.95" y1="229.69" x2="53.35" y2="229.69" stroke="#111" stroke-width="1.0"/>
<line x1="49.95" y1="231.74" x2="53.35" y2="231.74" stroke="#111" stroke-width="1.0"/>
<line x1="99.74" y1="196.97" x2="99.74" y2="220.28" stroke="#111" stroke-width="1.0"/>
<line x1="98.04" y1="196.97" x2="101.44" y2="196.97" stroke="#111" stroke-width="1.0"/>
<line x1="98.04" y1="220.28" x2="101.44" y2="220.28" stroke="#111" stroke-width="1.0"/>
<rect x="21.70" y="225.64" width="3.6" height="3.6" rx="0.9" fill="#000"/>
<rect x="32.39" y="227.28" width="3.6" height="3.6" rx="0.9" fill="#000"/>
<rect x="49.85" y="228.91" width="3.6" height="3.6" rx="0.9" fill="#000"/>
<rect x="97.94" y="206.83" width="3.6" height="3.6" rx="0.9" fill="#000"/>
<polygon points="23.50,220.32 26.00,224.89 21.00,224.89" fill="#fff" stroke="#000" stroke-width="1.15" stroke-linejoin="round"/>
<polygon points="34.19,227.07 36.69,231.64 31.69,231.64" fill="#fff" stroke="#000" stroke-width="1.15" stroke-linejoin="round"/>
<polygon points="51.65,228.50 54.15,233.07 49.15,233.07" fill="#fff" stroke="#000" stroke-width="1.15" stroke-linejoin="round"/>
<polygon points="99.74,220.73 102.24,225.30 97.24,225.30" fill="#fff" stroke="#000" stroke-width="1.15" stroke-linejoin="round"/>
<line x1="136.00" y1="190.94" x2="136.00" y2="271.50" stroke="#111" stroke-width="1.0"/>
<line x1="133.80" y1="271.00" x2="218.70" y2="271.00" stroke="#111" stroke-width="1.0"/>
<line x1="133.40" y1="271.00" x2="136.00" y2="271.00" stroke="#111" stroke-width="1.0"/>
<text x="131.70" y="273.00" font-size="6.1" text-anchor="end" font-weight="normal" fill="#000" stroke="#000" stroke-width="0.22" >0</text>
<line x1="133.40" y1="251.06" x2="136.00" y2="251.06" stroke="#111" stroke-width="1.0"/>
<text x="131.70" y="253.06" font-size="6.1" text-anchor="end" font-weight="normal" fill="#000" stroke="#000" stroke-width="0.22" >2</text>
<line x1="133.40" y1="231.12" x2="136.00" y2="231.12" stroke="#111" stroke-width="1.0"/>
<text x="131.70" y="233.12" font-size="6.1" text-anchor="end" font-weight="normal" fill="#000" stroke="#000" stroke-width="0.22" >4</text>
<line x1="133.40" y1="211.18" x2="136.00" y2="211.18" stroke="#111" stroke-width="1.0"/>
<text x="131.70" y="213.18" font-size="6.1" text-anchor="end" font-weight="normal" fill="#000" stroke="#000" stroke-width="0.22" >6</text>
<line x1="133.40" y1="191.24" x2="136.00" y2="191.24" stroke="#111" stroke-width="1.0"/>
<text x="131.70" y="193.24" font-size="6.1" text-anchor="end" font-weight="normal" fill="#000" stroke="#000" stroke-width="0.22" >8</text>
<line x1="134.60" y1="266.01" x2="136.00" y2="266.01" stroke="#111" stroke-width="0.9"/>
<line x1="134.60" y1="261.03" x2="136.00" y2="261.03" stroke="#111" stroke-width="0.9"/>
<line x1="134.60" y1="256.05" x2="136.00" y2="256.05" stroke="#111" stroke-width="0.9"/>
<line x1="134.60" y1="246.07" x2="136.00" y2="246.07" stroke="#111" stroke-width="0.9"/>
<line x1="134.60" y1="241.09" x2="136.00" y2="241.09" stroke="#111" stroke-width="0.9"/>
<line x1="134.60" y1="236.10" x2="136.00" y2="236.10" stroke="#111" stroke-width="0.9"/>
<line x1="134.60" y1="226.13" x2="136.00" y2="226.13" stroke="#111" stroke-width="0.9"/>
<line x1="134.60" y1="221.15" x2="136.00" y2="221.15" stroke="#111" stroke-width="0.9"/>
<line x1="134.60" y1="216.16" x2="136.00" y2="216.16" stroke="#111" stroke-width="0.9"/>
<line x1="134.60" y1="206.19" x2="136.00" y2="206.19" stroke="#111" stroke-width="0.9"/>
<line x1="134.60" y1="201.21" x2="136.00" y2="201.21" stroke="#111" stroke-width="0.9"/>
<line x1="134.60" y1="196.22" x2="136.00" y2="196.22" stroke="#111" stroke-width="0.9"/>
<line x1="136.00" y1="271.00" x2="136.00" y2="273.60" stroke="#111" stroke-width="1.0"/>
<text x="136.00" y="279.60" font-size="6.3" text-anchor="middle" font-weight="normal" fill="#000" stroke="#000" stroke-width="0.2" >0</text>
<line x1="156.55" y1="271.00" x2="156.55" y2="273.60" stroke="#111" stroke-width="1.0"/>
<text x="156.55" y="279.60" font-size="6.3" text-anchor="middle" font-weight="normal" fill="#000" stroke="#000" stroke-width="0.2" >100</text>
<line x1="177.10" y1="271.00" x2="177.10" y2="273.60" stroke="#111" stroke-width="1.0"/>
<text x="177.10" y="279.60" font-size="6.3" text-anchor="middle" font-weight="normal" fill="#000" stroke="#000" stroke-width="0.2" >200</text>
<line x1="197.65" y1="271.00" x2="197.65" y2="273.60" stroke="#111" stroke-width="1.0"/>
<text x="197.65" y="279.60" font-size="6.3" text-anchor="middle" font-weight="normal" fill="#000" stroke="#000" stroke-width="0.2" >300</text>
<line x1="218.20" y1="271.00" x2="218.20" y2="273.60" stroke="#111" stroke-width="1.0"/>
<text x="218.20" y="279.60" font-size="6.3" text-anchor="middle" font-weight="normal" fill="#000" stroke="#000" stroke-width="0.2" >400</text>
<line x1="140.11" y1="271.00" x2="140.11" y2="272.40" stroke="#111" stroke-width="0.9"/>
<line x1="144.22" y1="271.00" x2="144.22" y2="272.40" stroke="#111" stroke-width="0.9"/>
<line x1="148.33" y1="271.00" x2="148.33" y2="272.40" stroke="#111" stroke-width="0.9"/>
<line x1="152.44" y1="271.00" x2="152.44" y2="272.40" stroke="#111" stroke-width="0.9"/>
<line x1="160.66" y1="271.00" x2="160.66" y2="272.40" stroke="#111" stroke-width="0.9"/>
<line x1="164.77" y1="271.00" x2="164.77" y2="272.40" stroke="#111" stroke-width="0.9"/>
<line x1="168.88" y1="271.00" x2="168.88" y2="272.40" stroke="#111" stroke-width="0.9"/>
<line x1="172.99" y1="271.00" x2="172.99" y2="272.40" stroke="#111" stroke-width="0.9"/>
<line x1="181.21" y1="271.00" x2="181.21" y2="272.40" stroke="#111" stroke-width="0.9"/>
<line x1="185.32" y1="271.00" x2="185.32" y2="272.40" stroke="#111" stroke-width="0.9"/>
<line x1="189.43" y1="271.00" x2="189.43" y2="272.40" stroke="#111" stroke-width="0.9"/>
<line x1="193.54" y1="271.00" x2="193.54" y2="272.40" stroke="#111" stroke-width="0.9"/>
<line x1="201.76" y1="271.00" x2="201.76" y2="272.40" stroke="#111" stroke-width="0.9"/>
<line x1="205.87" y1="271.00" x2="205.87" y2="272.40" stroke="#111" stroke-width="0.9"/>
<line x1="209.98" y1="271.00" x2="209.98" y2="272.40" stroke="#111" stroke-width="0.9"/>
<line x1="214.09" y1="271.00" x2="214.09" y2="272.40" stroke="#111" stroke-width="0.9"/>
<text x="176.20" y="185.10" font-size="8.3" text-anchor="middle" font-weight="normal" fill="#000" stroke="#000" stroke-width="0.14" >B-cells (B220<tspan font-size="5" dy="-2.8">+</tspan><tspan dy="2.8">CD19</tspan><tspan font-size="5" dy="-2.8">+</tspan><tspan dy="2.8">)</tspan></text>
<text transform="translate(124.30,231.40) rotate(-90)" font-size="6.6" text-anchor="middle" fill="#000" stroke="#000" stroke-width="0.2">(×10<tspan font-size="4.2" dy="-2.4">9</tspan><tspan dy="2.4">/l)</tspan></text>
<polyline points="136.00,220.75 146.69,248.17 164.15,255.35 212.24,261.33" fill="none" stroke="#111" stroke-width="1.15"/>
<polyline points="136.00,231.92 146.69,220.75 164.15,224.74 212.24,211.78" fill="none" stroke="#111" stroke-width="1.15"/>
<line x1="136.00" y1="216.26" x2="136.00" y2="225.24" stroke="#111" stroke-width="1.0"/>
<line x1="134.30" y1="216.26" x2="137.70" y2="216.26" stroke="#111" stroke-width="1.0"/>
<line x1="134.30" y1="225.24" x2="137.70" y2="225.24" stroke="#111" stroke-width="1.0"/>
<line x1="146.69" y1="244.68" x2="146.69" y2="251.66" stroke="#111" stroke-width="1.0"/>
<line x1="144.99" y1="244.68" x2="148.39" y2="244.68" stroke="#111" stroke-width="1.0"/>
<line x1="144.99" y1="251.66" x2="148.39" y2="251.66" stroke="#111" stroke-width="1.0"/>
<line x1="164.15" y1="254.35" x2="164.15" y2="256.34" stroke="#111" stroke-width="1.0"/>
<line x1="162.45" y1="254.35" x2="165.85" y2="254.35" stroke="#111" stroke-width="1.0"/>
<line x1="162.45" y1="256.34" x2="165.85" y2="256.34" stroke="#111" stroke-width="1.0"/>
<line x1="212.24" y1="258.54" x2="212.24" y2="264.12" stroke="#111" stroke-width="1.0"/>
<line x1="210.54" y1="258.54" x2="213.94" y2="258.54" stroke="#111" stroke-width="1.0"/>
<line x1="210.54" y1="264.12" x2="213.94" y2="264.12" stroke="#111" stroke-width="1.0"/>
<line x1="136.00" y1="224.94" x2="136.00" y2="238.90" stroke="#111" stroke-width="1.0"/>
<line x1="134.30" y1="224.94" x2="137.70" y2="224.94" stroke="#111" stroke-width="1.0"/>
<line x1="134.30" y1="238.90" x2="137.70" y2="238.90" stroke="#111" stroke-width="1.0"/>
<line x1="146.69" y1="207.09" x2="146.69" y2="234.41" stroke="#111" stroke-width="1.0"/>
<line x1="144.99" y1="207.09" x2="148.39" y2="207.09" stroke="#111" stroke-width="1.0"/>
<line x1="144.99" y1="234.41" x2="148.39" y2="234.41" stroke="#111" stroke-width="1.0"/>
<line x1="164.15" y1="222.25" x2="164.15" y2="227.23" stroke="#111" stroke-width="1.0"/>
<line x1="162.45" y1="222.25" x2="165.85" y2="222.25" stroke="#111" stroke-width="1.0"/>
<line x1="162.45" y1="227.23" x2="165.85" y2="227.23" stroke="#111" stroke-width="1.0"/>
<line x1="212.24" y1="201.81" x2="212.24" y2="221.75" stroke="#111" stroke-width="1.0"/>
<line x1="210.54" y1="201.81" x2="213.94" y2="201.81" stroke="#111" stroke-width="1.0"/>
<line x1="210.54" y1="221.75" x2="213.94" y2="221.75" stroke="#111" stroke-width="1.0"/>
<rect x="134.20" y="230.12" width="3.6" height="3.6" rx="0.9" fill="#000"/>
<rect x="144.89" y="218.95" width="3.6" height="3.6" rx="0.9" fill="#000"/>
<rect x="162.35" y="222.94" width="3.6" height="3.6" rx="0.9" fill="#000"/>
<rect x="210.44" y="209.98" width="3.6" height="3.6" rx="0.9" fill="#000"/>
<polygon points="136.00,218.13 138.50,222.70 133.50,222.70" fill="#fff" stroke="#000" stroke-width="1.15" stroke-linejoin="round"/>
<polygon points="146.69,245.54 149.19,250.12 144.19,250.12" fill="#fff" stroke="#000" stroke-width="1.15" stroke-linejoin="round"/>
<polygon points="164.15,252.72 166.65,257.30 161.65,257.30" fill="#fff" stroke="#000" stroke-width="1.15" stroke-linejoin="round"/>
<polygon points="212.24,258.70 214.74,263.28 209.74,263.28" fill="#fff" stroke="#000" stroke-width="1.15" stroke-linejoin="round"/>
<text x="146.69" y="258.00" font-size="6.0" text-anchor="middle" font-weight="normal" fill="#000" stroke="#000" stroke-width="0.2" >*</text>
<text x="164.15" y="264.60" font-size="6.0" text-anchor="middle" font-weight="normal" fill="#000" stroke="#000" stroke-width="0.2" >**</text>
<text x="212.24" y="270.20" font-size="6.0" text-anchor="middle" font-weight="normal" fill="#000" stroke="#000" stroke-width="0.2" >**</text>
<line x1="23.50" y1="299.60" x2="23.50" y2="382.10" stroke="#111" stroke-width="1.0"/>
<line x1="21.30" y1="381.60" x2="106.20" y2="381.60" stroke="#111" stroke-width="1.0"/>
<line x1="20.90" y1="381.60" x2="23.50" y2="381.60" stroke="#111" stroke-width="1.0"/>
<text x="19.20" y="383.60" font-size="6.1" text-anchor="end" font-weight="normal" fill="#000" stroke="#000" stroke-width="0.22" >0.0</text>
<line x1="20.90" y1="361.18" x2="23.50" y2="361.18" stroke="#111" stroke-width="1.0"/>
<text x="19.20" y="363.18" font-size="6.1" text-anchor="end" font-weight="normal" fill="#000" stroke="#000" stroke-width="0.22" >0.5</text>
<line x1="20.90" y1="340.75" x2="23.50" y2="340.75" stroke="#111" stroke-width="1.0"/>
<text x="19.20" y="342.75" font-size="6.1" text-anchor="end" font-weight="normal" fill="#000" stroke="#000" stroke-width="0.22" >1.0</text>
<line x1="20.90" y1="320.33" x2="23.50" y2="320.33" stroke="#111" stroke-width="1.0"/>
<text x="19.20" y="322.33" font-size="6.1" text-anchor="end" font-weight="normal" fill="#000" stroke="#000" stroke-width="0.22" >1.5</text>
<line x1="20.90" y1="299.90" x2="23.50" y2="299.90" stroke="#111" stroke-width="1.0"/>
<text x="19.20" y="301.90" font-size="6.1" text-anchor="end" font-weight="normal" fill="#000" stroke="#000" stroke-width="0.22" >2.0</text>
<line x1="22.10" y1="377.52" x2="23.50" y2="377.52" stroke="#111" stroke-width="0.9"/>
<line x1="22.10" y1="373.43" x2="23.50" y2="373.43" stroke="#111" stroke-width="0.9"/>
<line x1="22.10" y1="369.35" x2="23.50" y2="369.35" stroke="#111" stroke-width="0.9"/>
<line x1="22.10" y1="365.26" x2="23.50" y2="365.26" stroke="#111" stroke-width="0.9"/>
<line x1="22.10" y1="357.09" x2="23.50" y2="357.09" stroke="#111" stroke-width="0.9"/>
<line x1="22.10" y1="353.00" x2="23.50" y2="353.00" stroke="#111" stroke-width="0.9"/>
<line x1="22.10" y1="348.92" x2="23.50" y2="348.92" stroke="#111" stroke-width="0.9"/>
<line x1="22.10" y1="344.84" x2="23.50" y2="344.84" stroke="#111" stroke-width="0.9"/>
<line x1="22.10" y1="336.67" x2="23.50" y2="336.67" stroke="#111" stroke-width="0.9"/>
<line x1="22.10" y1="332.58" x2="23.50" y2="332.58" stroke="#111" stroke-width="0.9"/>
<line x1="22.10" y1="328.50" x2="23.50" y2="328.50" stroke="#111" stroke-width="0.9"/>
<line x1="22.10" y1="324.41" x2="23.50" y2="324.41" stroke="#111" stroke-width="0.9"/>
<line x1="22.10" y1="316.24" x2="23.50" y2="316.24" stroke="#111" stroke-width="0.9"/>
<line x1="22.10" y1="312.16" x2="23.50" y2="312.16" stroke="#111" stroke-width="0.9"/>
<line x1="22.10" y1="308.07" x2="23.50" y2="308.07" stroke="#111" stroke-width="0.9"/>
<line x1="22.10" y1="303.99" x2="23.50" y2="303.99" stroke="#111" stroke-width="0.9"/>
<line x1="23.50" y1="381.60" x2="23.50" y2="384.20" stroke="#111" stroke-width="1.0"/>
<text x="23.50" y="390.20" font-size="6.3" text-anchor="middle" font-weight="normal" fill="#000" stroke="#000" stroke-width="0.2" >0</text>
<line x1="44.05" y1="381.60" x2="44.05" y2="384.20" stroke="#111" stroke-width="1.0"/>
<text x="44.05" y="390.20" font-size="6.3" text-anchor="middle" font-weight="normal" fill="#000" stroke="#000" stroke-width="0.2" >100</text>
<line x1="64.60" y1="381.60" x2="64.60" y2="384.20" stroke="#111" stroke-width="1.0"/>
<text x="64.60" y="390.20" font-size="6.3" text-anchor="middle" font-weight="normal" fill="#000" stroke="#000" stroke-width="0.2" >200</text>
<line x1="85.15" y1="381.60" x2="85.15" y2="384.20" stroke="#111" stroke-width="1.0"/>
<text x="85.15" y="390.20" font-size="6.3" text-anchor="middle" font-weight="normal" fill="#000" stroke="#000" stroke-width="0.2" >300</text>
<line x1="105.70" y1="381.60" x2="105.70" y2="384.20" stroke="#111" stroke-width="1.0"/>
<text x="105.70" y="390.20" font-size="6.3" text-anchor="middle" font-weight="normal" fill="#000" stroke="#000" stroke-width="0.2" >400</text>
<line x1="27.61" y1="381.60" x2="27.61" y2="383.00" stroke="#111" stroke-width="0.9"/>
<line x1="31.72" y1="381.60" x2="31.72" y2="383.00" stroke="#111" stroke-width="0.9"/>
<line x1="35.83" y1="381.60" x2="35.83" y2="383.00" stroke="#111" stroke-width="0.9"/>
<line x1="39.94" y1="381.60" x2="39.94" y2="383.00" stroke="#111" stroke-width="0.9"/>
<line x1="48.16" y1="381.60" x2="48.16" y2="383.00" stroke="#111" stroke-width="0.9"/>
<line x1="52.27" y1="381.60" x2="52.27" y2="383.00" stroke="#111" stroke-width="0.9"/>
<line x1="56.38" y1="381.60" x2="56.38" y2="383.00" stroke="#111" stroke-width="0.9"/>
<line x1="60.49" y1="381.60" x2="60.49" y2="383.00" stroke="#111" stroke-width="0.9"/>
<line x1="68.71" y1="381.60" x2="68.71" y2="383.00" stroke="#111" stroke-width="0.9"/>
<line x1="72.82" y1="381.60" x2="72.82" y2="383.00" stroke="#111" stroke-width="0.9"/>
<line x1="76.93" y1="381.60" x2="76.93" y2="383.00" stroke="#111" stroke-width="0.9"/>
<line x1="81.04" y1="381.60" x2="81.04" y2="383.00" stroke="#111" stroke-width="0.9"/>
<line x1="89.26" y1="381.60" x2="89.26" y2="383.00" stroke="#111" stroke-width="0.9"/>
<line x1="93.37" y1="381.60" x2="93.37" y2="383.00" stroke="#111" stroke-width="0.9"/>
<line x1="97.48" y1="381.60" x2="97.48" y2="383.00" stroke="#111" stroke-width="0.9"/>
<line x1="101.59" y1="381.60" x2="101.59" y2="383.00" stroke="#111" stroke-width="0.9"/>
<text x="67.30" y="296.10" font-size="8.3" text-anchor="middle" font-weight="normal" fill="#000" stroke="#000" stroke-width="0.14" >T-cells (CD4<tspan font-size="5" dy="-2.8">+</tspan><tspan dy="2.8">)</tspan></text>
<text transform="translate(8.60,342.70) rotate(-90)" font-size="6.6" text-anchor="middle" fill="#000" stroke="#000" stroke-width="0.2">(×10<tspan font-size="4.2" dy="-2.4">9</tspan><tspan dy="2.4">/l)</tspan></text>
<polyline points="23.50,324.82 34.19,328.50 51.65,343.20 99.74,351.78" fill="none" stroke="#111" stroke-width="1.15"/>
<polyline points="23.50,326.45 34.19,326.45 51.65,341.16 99.74,337.07" fill="none" stroke="#111" stroke-width="1.15"/>
<line x1="23.50" y1="321.55" x2="23.50" y2="328.09" stroke="#111" stroke-width="1.0"/>
<line x1="21.80" y1="321.55" x2="25.20" y2="321.55" stroke="#111" stroke-width="1.0"/>
<line x1="21.80" y1="328.09" x2="25.20" y2="328.09" stroke="#111" stroke-width="1.0"/>
<line x1="34.19" y1="314.61" x2="34.19" y2="342.38" stroke="#111" stroke-width="1.0"/>
<line x1="32.49" y1="314.61" x2="35.89" y2="314.61" stroke="#111" stroke-width="1.0"/>
<line x1="32.49" y1="342.38" x2="35.89" y2="342.38" stroke="#111" stroke-width="1.0"/>
<line x1="51.65" y1="341.16" x2="51.65" y2="345.24" stroke="#111" stroke-width="1.0"/>
<line x1="49.95" y1="341.16" x2="53.35" y2="341.16" stroke="#111" stroke-width="1.0"/>
<line x1="49.95" y1="345.24" x2="53.35" y2="345.24" stroke="#111" stroke-width="1.0"/>
<line x1="99.74" y1="344.02" x2="99.74" y2="359.54" stroke="#111" stroke-width="1.0"/>
<line x1="98.04" y1="344.02" x2="101.44" y2="344.02" stroke="#111" stroke-width="1.0"/>
<line x1="98.04" y1="359.54" x2="101.44" y2="359.54" stroke="#111" stroke-width="1.0"/>
<line x1="23.50" y1="323.18" x2="23.50" y2="329.72" stroke="#111" stroke-width="1.0"/>
<line x1="21.80" y1="323.18" x2="25.20" y2="323.18" stroke="#111" stroke-width="1.0"/>
<line x1="21.80" y1="329.72" x2="25.20" y2="329.72" stroke="#111" stroke-width="1.0"/>
<line x1="34.19" y1="322.37" x2="34.19" y2="330.54" stroke="#111" stroke-width="1.0"/>
<line x1="32.49" y1="322.37" x2="35.89" y2="322.37" stroke="#111" stroke-width="1.0"/>
<line x1="32.49" y1="330.54" x2="35.89" y2="330.54" stroke="#111" stroke-width="1.0"/>
<line x1="51.65" y1="339.12" x2="51.65" y2="343.20" stroke="#111" stroke-width="1.0"/>
<line x1="49.95" y1="339.12" x2="53.35" y2="339.12" stroke="#111" stroke-width="1.0"/>
<line x1="49.95" y1="343.20" x2="53.35" y2="343.20" stroke="#111" stroke-width="1.0"/>
<line x1="99.74" y1="334.21" x2="99.74" y2="339.93" stroke="#111" stroke-width="1.0"/>
<line x1="98.04" y1="334.21" x2="101.44" y2="334.21" stroke="#111" stroke-width="1.0"/>
<line x1="98.04" y1="339.93" x2="101.44" y2="339.93" stroke="#111" stroke-width="1.0"/>
<rect x="21.70" y="324.65" width="3.6" height="3.6" rx="0.9" fill="#000"/>
<rect x="32.39" y="324.65" width="3.6" height="3.6" rx="0.9" fill="#000"/>
<rect x="49.85" y="339.36" width="3.6" height="3.6" rx="0.9" fill="#000"/>
<rect x="97.94" y="335.27" width="3.6" height="3.6" rx="0.9" fill="#000"/>
<polygon points="23.50,322.19 26.00,326.77 21.00,326.77" fill="#fff" stroke="#000" stroke-width="1.15" stroke-linejoin="round"/>
<polygon points="34.19,325.87 36.69,330.44 31.69,330.44" fill="#fff" stroke="#000" stroke-width="1.15" stroke-linejoin="round"/>
<polygon points="51.65,340.58 54.15,345.15 49.15,345.15" fill="#fff" stroke="#000" stroke-width="1.15" stroke-linejoin="round"/>
<polygon points="99.74,349.15 102.24,353.73 97.24,353.73" fill="#fff" stroke="#000" stroke-width="1.15" stroke-linejoin="round"/>
<line x1="135.80" y1="300.30" x2="135.80" y2="382.10" stroke="#111" stroke-width="1.0"/>
<line x1="133.60" y1="381.60" x2="218.50" y2="381.60" stroke="#111" stroke-width="1.0"/>
<line x1="133.20" y1="381.60" x2="135.80" y2="381.60" stroke="#111" stroke-width="1.0"/>
<text x="131.50" y="383.60" font-size="6.1" text-anchor="end" font-weight="normal" fill="#000" stroke="#000" stroke-width="0.22" >0.0</text>
<line x1="133.20" y1="354.60" x2="135.80" y2="354.60" stroke="#111" stroke-width="1.0"/>
<text x="131.50" y="356.60" font-size="6.1" text-anchor="end" font-weight="normal" fill="#000" stroke="#000" stroke-width="0.22" >0.5</text>
<line x1="133.20" y1="327.60" x2="135.80" y2="327.60" stroke="#111" stroke-width="1.0"/>
<text x="131.50" y="329.60" font-size="6.1" text-anchor="end" font-weight="normal" fill="#000" stroke="#000" stroke-width="0.22" >1.0</text>
<line x1="133.20" y1="300.60" x2="135.80" y2="300.60" stroke="#111" stroke-width="1.0"/>
<text x="131.50" y="302.60" font-size="6.1" text-anchor="end" font-weight="normal" fill="#000" stroke="#000" stroke-width="0.22" >1.5</text>
<line x1="134.40" y1="376.20" x2="135.80" y2="376.20" stroke="#111" stroke-width="0.9"/>
<line x1="134.40" y1="370.80" x2="135.80" y2="370.80" stroke="#111" stroke-width="0.9"/>
<line x1="134.40" y1="365.40" x2="135.80" y2="365.40" stroke="#111" stroke-width="0.9"/>
<line x1="134.40" y1="360.00" x2="135.80" y2="360.00" stroke="#111" stroke-width="0.9"/>
<line x1="134.40" y1="349.20" x2="135.80" y2="349.20" stroke="#111" stroke-width="0.9"/>
<line x1="134.40" y1="343.80" x2="135.80" y2="343.80" stroke="#111" stroke-width="0.9"/>
<line x1="134.40" y1="338.40" x2="135.80" y2="338.40" stroke="#111" stroke-width="0.9"/>
<line x1="134.40" y1="333.00" x2="135.80" y2="333.00" stroke="#111" stroke-width="0.9"/>
<line x1="134.40" y1="322.20" x2="135.80" y2="322.20" stroke="#111" stroke-width="0.9"/>
<line x1="134.40" y1="316.80" x2="135.80" y2="316.80" stroke="#111" stroke-width="0.9"/>
<line x1="134.40" y1="311.40" x2="135.80" y2="311.40" stroke="#111" stroke-width="0.9"/>
<line x1="134.40" y1="306.00" x2="135.80" y2="306.00" stroke="#111" stroke-width="0.9"/>
<line x1="135.80" y1="381.60" x2="135.80" y2="384.20" stroke="#111" stroke-width="1.0"/>
<text x="135.80" y="390.20" font-size="6.3" text-anchor="middle" font-weight="normal" fill="#000" stroke="#000" stroke-width="0.2" >0</text>
<line x1="156.35" y1="381.60" x2="156.35" y2="384.20" stroke="#111" stroke-width="1.0"/>
<text x="156.35" y="390.20" font-size="6.3" text-anchor="middle" font-weight="normal" fill="#000" stroke="#000" stroke-width="0.2" >100</text>
<line x1="176.90" y1="381.60" x2="176.90" y2="384.20" stroke="#111" stroke-width="1.0"/>
<text x="176.90" y="390.20" font-size="6.3" text-anchor="middle" font-weight="normal" fill="#000" stroke="#000" stroke-width="0.2" >200</text>
<line x1="197.45" y1="381.60" x2="197.45" y2="384.20" stroke="#111" stroke-width="1.0"/>
<text x="197.45" y="390.20" font-size="6.3" text-anchor="middle" font-weight="normal" fill="#000" stroke="#000" stroke-width="0.2" >300</text>
<line x1="218.00" y1="381.60" x2="218.00" y2="384.20" stroke="#111" stroke-width="1.0"/>
<text x="218.00" y="390.20" font-size="6.3" text-anchor="middle" font-weight="normal" fill="#000" stroke="#000" stroke-width="0.2" >400</text>
<line x1="139.91" y1="381.60" x2="139.91" y2="383.00" stroke="#111" stroke-width="0.9"/>
<line x1="144.02" y1="381.60" x2="144.02" y2="383.00" stroke="#111" stroke-width="0.9"/>
<line x1="148.13" y1="381.60" x2="148.13" y2="383.00" stroke="#111" stroke-width="0.9"/>
<line x1="152.24" y1="381.60" x2="152.24" y2="383.00" stroke="#111" stroke-width="0.9"/>
<line x1="160.46" y1="381.60" x2="160.46" y2="383.00" stroke="#111" stroke-width="0.9"/>
<line x1="164.57" y1="381.60" x2="164.57" y2="383.00" stroke="#111" stroke-width="0.9"/>
<line x1="168.68" y1="381.60" x2="168.68" y2="383.00" stroke="#111" stroke-width="0.9"/>
<line x1="172.79" y1="381.60" x2="172.79" y2="383.00" stroke="#111" stroke-width="0.9"/>
<line x1="181.01" y1="381.60" x2="181.01" y2="383.00" stroke="#111" stroke-width="0.9"/>
<line x1="185.12" y1="381.60" x2="185.12" y2="383.00" stroke="#111" stroke-width="0.9"/>
<line x1="189.23" y1="381.60" x2="189.23" y2="383.00" stroke="#111" stroke-width="0.9"/>
<line x1="193.34" y1="381.60" x2="193.34" y2="383.00" stroke="#111" stroke-width="0.9"/>
<line x1="201.56" y1="381.60" x2="201.56" y2="383.00" stroke="#111" stroke-width="0.9"/>
<line x1="205.67" y1="381.60" x2="205.67" y2="383.00" stroke="#111" stroke-width="0.9"/>
<line x1="209.78" y1="381.60" x2="209.78" y2="383.00" stroke="#111" stroke-width="0.9"/>
<line x1="213.89" y1="381.60" x2="213.89" y2="383.00" stroke="#111" stroke-width="0.9"/>
<text x="177.70" y="296.10" font-size="8.3" text-anchor="middle" font-weight="normal" fill="#000" stroke="#000" stroke-width="0.14" >T-cells (CD8<tspan font-size="5" dy="-2.8">+</tspan><tspan dy="2.8">)</tspan></text>
<text transform="translate(120.20,341.50) rotate(-90)" font-size="6.6" text-anchor="middle" fill="#000" stroke="#000" stroke-width="0.2">(×10<tspan font-size="4.2" dy="-2.4">9</tspan><tspan dy="2.4">/l)</tspan></text>
<polyline points="135.80,314.10 146.49,322.20 163.95,327.06 212.04,338.40" fill="none" stroke="#111" stroke-width="1.15"/>
<polyline points="135.80,325.44 146.49,322.20 163.95,327.06 212.04,311.94" fill="none" stroke="#111" stroke-width="1.15"/>
<line x1="135.80" y1="309.78" x2="135.80" y2="318.42" stroke="#111" stroke-width="1.0"/>
<line x1="134.10" y1="309.78" x2="137.50" y2="309.78" stroke="#111" stroke-width="1.0"/>
<line x1="134.10" y1="318.42" x2="137.50" y2="318.42" stroke="#111" stroke-width="1.0"/>
<line x1="146.49" y1="306.00" x2="146.49" y2="338.40" stroke="#111" stroke-width="1.0"/>
<line x1="144.79" y1="306.00" x2="148.19" y2="306.00" stroke="#111" stroke-width="1.0"/>
<line x1="144.79" y1="338.40" x2="148.19" y2="338.40" stroke="#111" stroke-width="1.0"/>
<line x1="163.95" y1="320.58" x2="163.95" y2="333.54" stroke="#111" stroke-width="1.0"/>
<line x1="162.25" y1="320.58" x2="165.65" y2="320.58" stroke="#111" stroke-width="1.0"/>
<line x1="162.25" y1="333.54" x2="165.65" y2="333.54" stroke="#111" stroke-width="1.0"/>
<line x1="212.04" y1="329.22" x2="212.04" y2="347.58" stroke="#111" stroke-width="1.0"/>
<line x1="210.34" y1="329.22" x2="213.74" y2="329.22" stroke="#111" stroke-width="1.0"/>
<line x1="210.34" y1="347.58" x2="213.74" y2="347.58" stroke="#111" stroke-width="1.0"/>
<line x1="135.80" y1="320.04" x2="135.80" y2="330.84" stroke="#111" stroke-width="1.0"/>
<line x1="134.10" y1="320.04" x2="137.50" y2="320.04" stroke="#111" stroke-width="1.0"/>
<line x1="134.10" y1="330.84" x2="137.50" y2="330.84" stroke="#111" stroke-width="1.0"/>
<line x1="146.49" y1="316.80" x2="146.49" y2="327.60" stroke="#111" stroke-width="1.0"/>
<line x1="144.79" y1="316.80" x2="148.19" y2="316.80" stroke="#111" stroke-width="1.0"/>
<line x1="144.79" y1="327.60" x2="148.19" y2="327.60" stroke="#111" stroke-width="1.0"/>
<line x1="163.95" y1="321.66" x2="163.95" y2="332.46" stroke="#111" stroke-width="1.0"/>
<line x1="162.25" y1="321.66" x2="165.65" y2="321.66" stroke="#111" stroke-width="1.0"/>
<line x1="162.25" y1="332.46" x2="165.65" y2="332.46" stroke="#111" stroke-width="1.0"/>
<line x1="212.04" y1="304.92" x2="212.04" y2="318.96" stroke="#111" stroke-width="1.0"/>
<line x1="210.34" y1="304.92" x2="213.74" y2="304.92" stroke="#111" stroke-width="1.0"/>
<line x1="210.34" y1="318.96" x2="213.74" y2="318.96" stroke="#111" stroke-width="1.0"/>
<rect x="134.00" y="323.64" width="3.6" height="3.6" rx="0.9" fill="#000"/>
<rect x="144.69" y="320.40" width="3.6" height="3.6" rx="0.9" fill="#000"/>
<rect x="162.15" y="325.26" width="3.6" height="3.6" rx="0.9" fill="#000"/>
<rect x="210.24" y="310.14" width="3.6" height="3.6" rx="0.9" fill="#000"/>
<polygon points="135.80,311.48 138.30,316.05 133.30,316.05" fill="#fff" stroke="#000" stroke-width="1.15" stroke-linejoin="round"/>
<polygon points="146.49,319.58 148.99,324.15 143.99,324.15" fill="#fff" stroke="#000" stroke-width="1.15" stroke-linejoin="round"/>
<polygon points="163.95,324.44 166.45,329.01 161.45,329.01" fill="#fff" stroke="#000" stroke-width="1.15" stroke-linejoin="round"/>
<polygon points="212.04,335.78 214.54,340.35 209.54,340.35" fill="#fff" stroke="#000" stroke-width="1.15" stroke-linejoin="round"/>
<line x1="484.40" y1="16.10" x2="493.90" y2="16.10" stroke="#1a1a1a" stroke-width="1.1"/>
<circle cx="489.30" cy="16.10" r="1.9" fill="#000"/>
<line x1="484.40" y1="25.20" x2="493.90" y2="25.20" stroke="#1a1a1a" stroke-width="1.1"/>
<polygon points="489.30,22.89 491.50,27.07 487.10,27.07" fill="#fff" stroke="#000" stroke-width="0.9"/>
<text x="497.00" y="18.10" font-size="6.3" text-anchor="start" font-weight="normal" fill="#000" stroke="#000" stroke-width="0.2" >+/Δ (5)</text>
<text x="497.00" y="27.20" font-size="6.3" text-anchor="start" font-weight="normal" fill="#000" stroke="#000" stroke-width="0.2" >-/Δ (5)</text>
<line x1="221.00" y1="194.10" x2="230.50" y2="194.10" stroke="#1a1a1a" stroke-width="1.1"/>
<circle cx="225.90" cy="194.10" r="1.9" fill="#000"/>
<line x1="221.00" y1="202.80" x2="230.50" y2="202.80" stroke="#1a1a1a" stroke-width="1.1"/>
<polygon points="225.90,200.49 228.10,204.67 223.70,204.67" fill="#fff" stroke="#000" stroke-width="0.9"/>
<text x="235.10" y="196.10" font-size="6.5" text-anchor="start" font-weight="normal" fill="#000" stroke="#000" stroke-width="0.2" >+/Δ (5)</text>
<text x="235.10" y="204.80" font-size="6.5" text-anchor="start" font-weight="normal" fill="#000" stroke="#000" stroke-width="0.2" >-/Δ (5)</text>
<line x1="187.30" y1="305.80" x2="187.30" y2="309.00" stroke="#333" stroke-width="0.9"/>
<text x="286.60" y="222.90" font-size="6.7" text-anchor="start" font-weight="normal" fill="#000" stroke="#000" stroke-width="0.14" >Time after poly(I:C) injection (d)</text>
<line x1="381.00" y1="220.80" x2="475.00" y2="220.80" stroke="#3a3a3a" stroke-width="1.1"/>
<polygon points="481.4,220.8 473.6,218.8 473.6,222.8" fill="#000"/>
<text x="24.60" y="400.60" font-size="6.75" text-anchor="start" font-weight="normal" fill="#000" stroke="#000" stroke-width="0.14" >Time after pIpC injection (d)</text>
<line x1="110.40" y1="398.50" x2="211.00" y2="398.50" stroke="#3a3a3a" stroke-width="1.1"/>
<polygon points="217.2,398.5 209.6,396.5 209.6,400.5" fill="#000"/>
</svg>
</body></html>
